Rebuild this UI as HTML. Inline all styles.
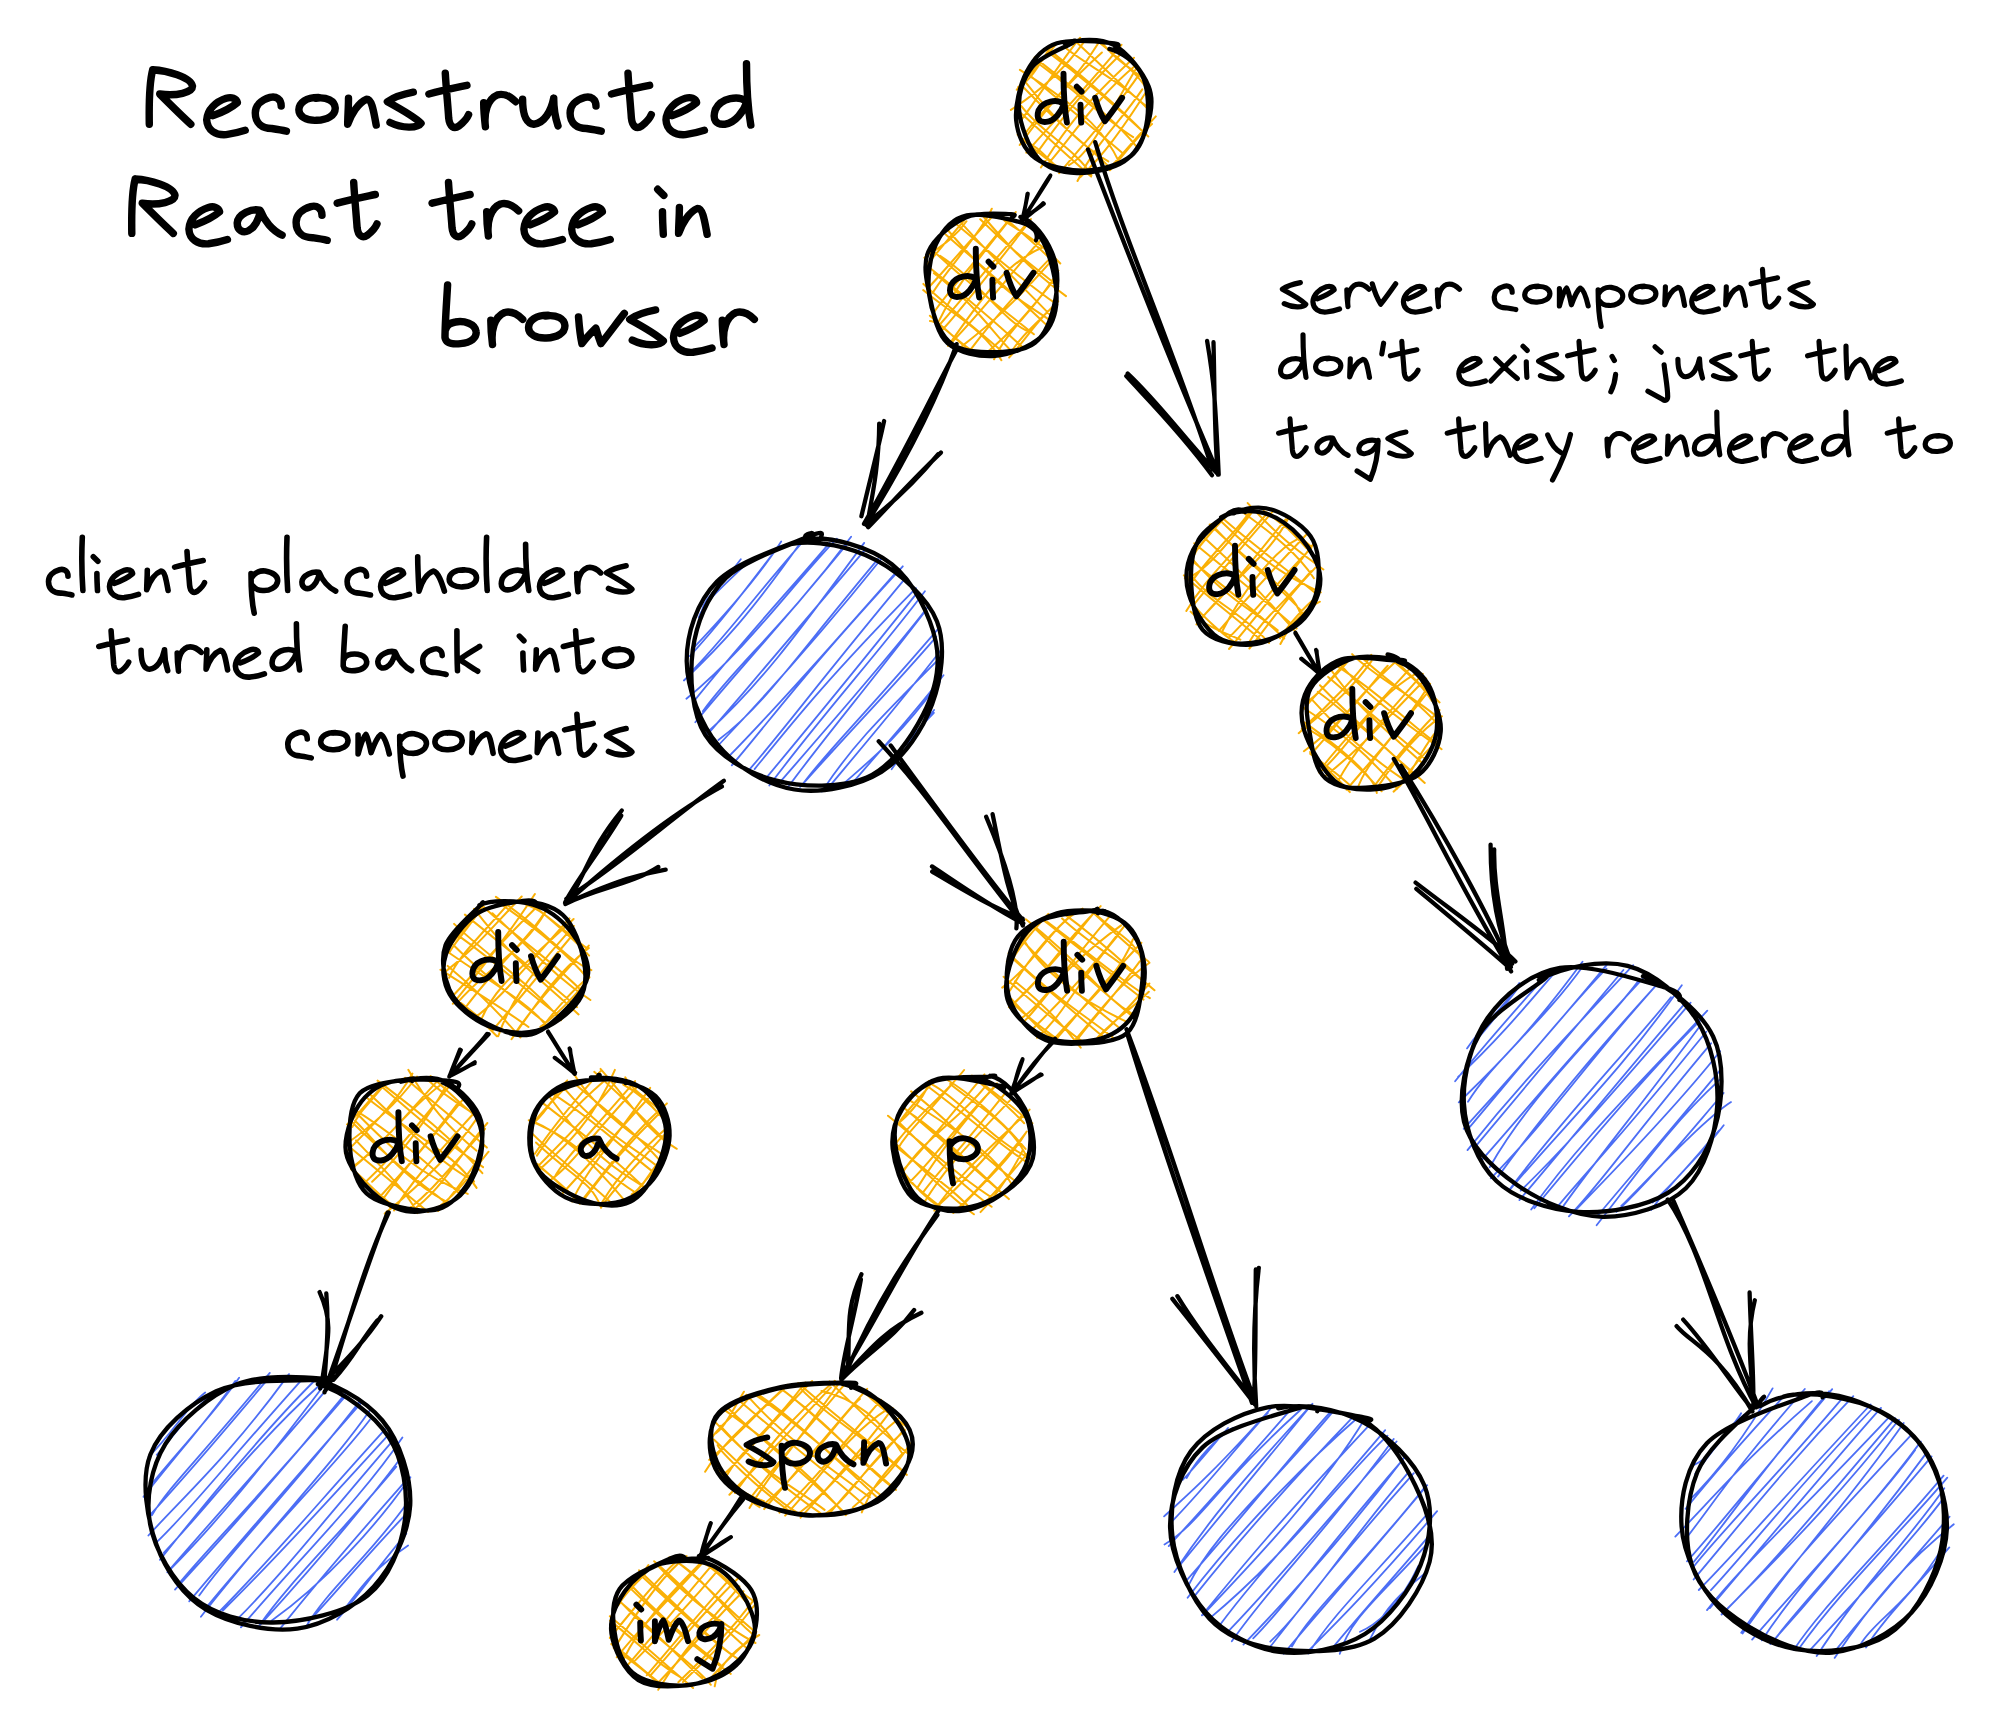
<!DOCTYPE html>
<html><head><meta charset="utf-8"><title>Reconstructed React tree in browser</title>
<style>
html,body{margin:0;padding:0;background:#fff;}
body{width:2000px;height:1732px;overflow:hidden;position:relative;font-family:"Liberation Sans",sans-serif;}
svg{position:absolute;left:0;top:0;display:block;}
.t{color:transparent;font-family:"Liberation Sans",sans-serif;z-index:2;}
</style></head><body>
<svg width="2000" height="1732" viewBox="0 0 2000 1732">
<defs><filter id="soft" x="0" y="0" width="100%" height="100%" filterUnits="userSpaceOnUse" color-interpolation-filters="sRGB"><feGaussianBlur stdDeviation="0.65"/></filter></defs>
<rect width="2000" height="1732" fill="#fff"/>
<g filter="url(#soft)">
<path d="M1016.7 89.8C1028.5 73.7 1038.3 66.5 1056.7 43.3M1018.1 87.2C1029.6 81.2 1037.2 68.3 1051.6 45.1M1010.9 109.9C1035.8 94 1062.7 71.9 1084.4 41.4M1019.6 122.3C1040.5 94.6 1058.1 65 1080.1 37.7M1019.7 145C1056.4 95.1 1073.9 78 1101.9 52.5M1024.1 135.1C1041.5 109.5 1071.6 87.2 1099.1 42M1026.3 152.7C1051 123.8 1075.1 100.7 1121.5 44.8M1035.9 154.3C1055.5 126.9 1079.5 94.2 1122.1 52.7M1040.9 167.5C1060.4 137.7 1075.2 112 1134 57.8M1049.1 162.7C1074 133.8 1098.6 95.5 1136.1 65M1069 165.2C1090.1 153.2 1104.6 121.7 1136.2 68.5M1059.2 173.2C1094.8 131.4 1123.2 98.2 1139.3 74.1M1077.5 181C1097 140.7 1119.5 123.5 1142.3 89.4M1080.2 177.2C1104.1 154.1 1120.4 131.9 1146.7 91M1114.2 163C1118.1 158.9 1127.7 147.3 1155.8 116.4M1109.9 170.2C1122.8 156.6 1132.7 140.6 1152 124M1063.2 172.2C1048.9 161.6 1039.5 145.6 1021.8 139.6M1063.7 171.2C1046 158.8 1028.2 144.5 1017.6 134.7M1091.5 175.2C1076.4 149.5 1037.8 130.4 1017.6 101.1M1091.1 176.6C1071.5 159.3 1052.4 141.6 1017.2 109.8M1108.3 161.4C1076.5 143.1 1047.5 110.4 1025.9 82.6M1109 166.9C1090.8 148.2 1066.3 132.2 1022.2 86M1119 161.8C1107.3 136.8 1089.5 113 1019.9 69.8M1123.8 154.2C1106.8 139.2 1086.2 123.1 1028.8 74.6M1133.2 137.1C1104.8 119.6 1065.7 82.4 1035.1 61.2M1137.8 148.1C1111.4 115.8 1080.9 94.6 1034.6 57.4M1148.3 136.5C1120.9 110.8 1084.6 79.1 1047.8 51.9M1144.6 133.4C1116.8 104.7 1078.7 73.3 1051.4 51.6M1150 111.3C1126.7 84.2 1084.8 64.4 1064.9 47.3M1147.9 107.4C1133 96.8 1117.3 80.5 1076.3 42.1M1146.8 81C1131.7 69.4 1111.3 56.4 1101.3 41.4M1144.7 85.7C1136.3 73.1 1121.3 60.1 1100.8 43.7" fill="none" stroke="#fab005" stroke-width="2.0" stroke-linecap="round" stroke-linejoin="round"/>
<path d="M1109.4 48.9C1122.4 52.3 1135.3 62.4 1141.6 74.2C1147.9 85.9 1149 105.7 1147.2 119.4C1145.4 133 1141.1 147.5 1130.8 156C1120.4 164.6 1101.1 170.3 1085.2 170.6C1069.3 171 1046.9 166.5 1035.5 158.2C1024 149.9 1017.7 135 1016.2 120.6C1014.8 106.2 1019.9 84.7 1026.7 71.8C1033.5 58.9 1042.3 48 1056.9 43.3C1071.6 38.5 1105 42.2 1114.4 43.3C1123.8 44.5 1114.6 47.8 1113.2 49.9M1065.2 44.2C1078.2 38.9 1099.8 37.8 1113.7 44.8C1127.6 51.9 1143.1 72.7 1148.7 86.5C1154.2 100.2 1150.9 114.9 1146.8 127.3C1142.7 139.8 1135.7 153.7 1124.1 161.4C1112.4 169 1091.2 173.5 1077 173.1C1062.7 172.7 1048.3 169.6 1038.6 158.9C1028.9 148.3 1020.1 124.4 1019 109.1C1018 93.7 1023.3 77.9 1032.3 66.8C1041.2 55.8 1066.2 47 1072.6 42.9C1079 38.8 1071.4 41.3 1070.7 42.2" fill="none" stroke="#000" stroke-width="4.3" stroke-linecap="round" stroke-linejoin="round"/>
<path d="M924.3 257.7C937.7 248 953.5 240.1 966.5 221.3M926.4 265.5C938.4 250.9 950.8 236 964.4 220.1M932.6 293C944 273.2 983.8 229.4 991.8 208.7M927.1 289C940.2 275.6 959.9 251.8 993.9 214.8M938.7 321.4C957.1 284.2 974.7 263.8 1015.8 212M933.3 313.2C947.1 292.6 970.9 266.7 1010.4 218.1M940.7 323.5C967.3 293.4 984.7 270.3 1030.9 219.1M939.6 333C966.1 303.5 989.3 273.5 1027.4 224.2M948 346C979.6 301.8 1005.1 262.4 1043.4 247M950.5 343.8C990.6 302.3 1021 260.3 1041.1 239.7M961.4 346.6C994 321.3 1016.3 301.1 1054.4 257.3M968.8 351.8C984.8 330.5 1007.6 301.5 1050.5 257.9M994.1 359.3C1006.6 330.2 1037.1 308.3 1058.4 270.5M981.9 356.6C1008.6 334.9 1028 313.6 1057.3 275.7M1009.1 357.6C1027 338.2 1038.4 318.3 1056.9 303M1010.5 353C1022 334.6 1035.6 324.4 1058.2 301.3M973.8 351.9C954.2 339.8 939.7 320.9 929.9 320.9M972.3 352.1C964 347.3 957.1 338.7 929.9 315.7M1001.4 360.2C982.6 327.5 952.8 315.2 923.2 290.1M1003.7 352.8C977.8 330.4 950.2 308.4 923.4 283.9M1013.2 352.9C994.3 334.8 976.8 305.4 933.9 273.1M1024 348.6C999.4 325.7 973.2 302.9 926.6 265.2M1029.9 332.3C1003.5 321.8 980 281.5 940.1 255.8M1033.9 334.3C1002.1 308.7 959.5 277 930.2 247.7M1050.4 320.6C1021.2 300 1002.6 293.7 946.4 228.5M1046.9 325.4C1014.8 294.2 979 263.9 945.7 234.4M1050.5 315.3C1027 290.8 1003.2 268.9 961.4 223.1M1057.3 304.7C1023.4 281.5 996.5 257.6 954 222.2M1066 296.1C1043.7 280.2 1013 251.9 983.4 216.5M1058.3 286.6C1035.6 267.3 1019 257.6 980.2 219.2M1060.3 263.5C1036.2 237.1 1009.3 225.8 1004.2 220.3M1056.9 265.6C1035.6 243.5 1017.8 229.6 1000 213.8" fill="none" stroke="#fab005" stroke-width="2.0" stroke-linecap="round" stroke-linejoin="round"/>
<path d="M1020.4 216.9C1034 221 1045.9 238.5 1051.8 252C1057.7 265.6 1058.4 283 1055.6 298.1C1052.8 313.3 1046.4 333.8 1035 342.8C1023.7 351.8 1001.7 352.5 987.3 352.2C972.9 351.9 958.1 350.7 948.4 341.1C938.7 331.6 931.2 311.2 929.2 295C927.1 278.8 929.7 257.2 936 244C942.3 230.7 951.6 218.6 966.8 215.4C981.9 212.1 1015.3 220.4 1026.9 224.5C1038.4 228.6 1037 238.3 1036.1 240.2M1016.1 221C1028.5 223 1036.9 229.7 1043.7 242.7C1050.4 255.7 1057 283.3 1056.6 298.9C1056.2 314.6 1051.6 327.1 1041.4 336.6C1031.1 346.1 1010.7 354.8 995 355.9C979.4 357 958.5 352.9 947.6 343.2C936.8 333.5 933.3 313.1 930.1 297.8C926.9 282.5 922.5 264.9 928.4 251.5C934.3 238.1 951.9 223.7 965.7 217.5C979.5 211.3 1003.4 214.1 1011 214.2C1018.7 214.4 1012.3 216.7 1011.5 218.4" fill="none" stroke="#000" stroke-width="4.3" stroke-linecap="round" stroke-linejoin="round"/>
<path d="M701.5 611.9C704.5 596.5 717.1 590.9 740.8 559.2M698.7 617.6C704.9 601 718.1 591.5 748.9 561.1M692.1 649.3C727.4 612.4 760.6 573.6 781.2 541.4M689.8 656.1C718.9 624.5 742.5 593.6 779.3 545.3M688 674.9C722.8 641.5 756.6 593.1 808.5 535.4M683.9 680.5C722.3 644.1 750.2 614.4 804.7 536.8M686.4 698.7C747.6 648.9 796.5 579.5 836.9 538.6M693.2 702.1C738.5 645.1 789.3 590.2 829.6 542.8M702.8 711.3C736 665.1 783.7 627 851.1 536.7M695.3 722.3C740.3 667.7 785 620.3 846.7 544.5M706.2 733.5C759.3 685.5 794.1 638.3 864.2 542.9M706.9 735.2C758.2 675.9 803.6 621.9 865.6 549.1M718.4 740C764.5 705.1 790.8 662.9 878.1 558.9M719.6 744C774.7 686.1 825.1 628.6 881.8 558.3M731.8 765.4C776.8 712.3 803 674.6 902.8 566.3M728.6 756.7C798.2 685.3 857.2 615.5 896.3 572M754.6 769.1C793.1 721.7 826.7 679.3 916 588.1M749.8 769.1C783.1 730.8 819.5 681.4 906.3 577.2M769.3 785.5C824.4 712.1 875.8 656.3 924.9 591.3M767.3 776.6C818.1 715.8 875.4 645 917.1 592.9M786.6 789.1C817.5 746.3 863.4 691.7 926.2 610M779.5 782.7C834.8 719 890.4 655.6 927.6 607.3M800.2 787C850.3 730.5 892.3 687.9 936.2 636.8M803.2 783.6C823.3 755.4 858.9 721 937.3 629.8M821.9 791.6C849.5 749.4 874.1 723.6 940.6 657.3M826.5 789.9C868.2 740 908.7 692.2 942.6 648M841.8 785.2C871.9 758.6 895.7 740.8 939.9 681.8M853.2 782.2C881 749.6 906.3 722.7 943.5 675.3M891.6 769.2C903.2 754 905 744.8 934.1 710M886.1 768.5C896.4 756.3 907.5 739.3 933.9 712.8" fill="none" stroke="#4c6ef5" stroke-width="1.8" stroke-linecap="round" stroke-linejoin="round"/>
<path d="M792.1 543.8C816.6 539.3 851.9 547.3 876.1 560.2C900.2 573.2 927.6 597.5 937 621.5C946.3 645.5 941.4 679.1 932.2 704.1C922.9 729.2 904.4 757.6 881.4 771.8C858.4 786 821.5 793.8 794.4 789.5C767.2 785.2 736.6 767.4 718.7 746C700.7 724.7 687 688.7 686.7 661.3C686.5 633.9 696.5 602.5 717 581.6C737.6 560.8 792.8 543.3 810 536.1C827.3 529 820.7 535.5 820.6 538.7M804 539.3C830.7 535.5 869.9 547.1 891.8 564.2C913.8 581.4 930.7 617.1 935.9 642.2C941 667.3 934.5 692.2 922.9 714.8C911.4 737.3 891.4 766.6 866.8 777.5C842.2 788.4 802.2 787.5 775.3 780.4C748.3 773.3 718.9 756.5 705.2 734.8C691.5 713 689.4 676 692.8 649.9C696.3 623.8 706.9 596.7 725.9 578C745 559.2 793.9 544.3 807.1 537.3C820.3 530.4 805.3 533.2 805.1 536.2" fill="none" stroke="#000" stroke-width="4.3" stroke-linecap="round" stroke-linejoin="round"/>
<path d="M1195 553.8C1195.3 549.5 1207.9 535.4 1228.7 513.2M1192.4 555.5C1202.1 543.3 1217.2 524.7 1226.9 515.2M1184.8 578.3C1197.8 576.4 1216.8 558.8 1253.3 510.7M1188.4 586.7C1209.6 553.8 1240.5 528.7 1251.7 508.4M1186.3 611C1205.2 579.1 1223.8 564.4 1267.3 513M1193.5 605.1C1210.7 584.3 1229.4 561.1 1273.7 510.3M1196.5 624.4C1235.5 576 1270.2 554.7 1288.3 518.3M1201 618.2C1230.2 589.7 1254.3 557.6 1285.6 519.3M1222.8 630.3C1245.3 585.5 1277.9 548.6 1297.5 539.2M1218.9 630.9C1240 606.2 1260.3 582.8 1306 535M1229 649C1255.5 618 1275.8 592.4 1313.6 543.9M1228.9 637.6C1259.6 607.1 1290.3 567.4 1311.2 548.6M1248.3 643.5C1262.1 619.2 1280.8 606.7 1311.1 571.1M1249.4 648.5C1268 626.3 1279 606.3 1315.2 567.9M1280.4 644C1292.5 618.9 1310.1 606.5 1319.9 601.7M1280 638.1C1289.2 623.6 1305 606.3 1314.3 599.1M1240.4 639.6C1224.7 633 1204.7 626 1190.6 611.6M1234.6 642.1C1218 631.1 1200.1 612.7 1196 607.9M1269 642.9C1243.5 613.9 1209.6 600.1 1192.2 576.4M1260.6 639.8C1240.1 621.3 1210.5 599.4 1183.8 575.3M1277.7 630.3C1266 619.2 1228.7 601.4 1193.1 559.8M1284.2 638.5C1251.2 605.7 1215.6 581.6 1188.9 558.1M1296.4 632.7C1263.5 595.6 1239.8 569.5 1203.3 536.7M1296.6 628.6C1258.5 594.6 1219.6 564.5 1194.3 543.2M1301 615.1C1294 591.7 1264.9 576.9 1209.7 524.5M1306.1 616.3C1284.2 589.7 1248.8 565.2 1211.3 524.2M1320.8 592.3C1290.1 578.7 1263.1 562.5 1221 521.2M1317.5 594.8C1283.5 566.7 1250.4 543 1221 516.8M1323.4 569.5C1304 554.7 1283.4 542 1247.7 503.1M1313.9 578.2C1299.2 555.7 1275.9 535.8 1238.8 509.5M1306.6 548.3C1288.8 528.9 1275.8 516 1263.6 511M1311.5 547C1298.7 535.2 1279.5 524 1268.5 513.4" fill="none" stroke="#fab005" stroke-width="2.0" stroke-linecap="round" stroke-linejoin="round"/>
<path d="M1221.1 517.3C1231.7 511.1 1250.2 509.5 1263.5 512.9C1276.8 516.3 1291.4 526.9 1300.9 537.8C1310.4 548.7 1319.7 564.8 1320.3 578.2C1320.9 591.6 1314 607.7 1304.4 618.2C1294.8 628.7 1276.9 637.8 1262.5 641.1C1248.1 644.3 1230.3 645.4 1218 637.5C1205.7 629.6 1192.9 608.2 1188.7 593.6C1184.6 579 1186.3 563.5 1193.1 550C1199.9 536.5 1220.6 518.9 1229.3 512.6C1238.1 506.3 1244.8 510.8 1245.4 512.1M1233.9 513.3C1244.6 508 1259.9 505.4 1273.1 510C1286.3 514.5 1306.1 526.4 1313.2 540.6C1320.3 554.8 1319.9 580.2 1315.7 595.1C1311.4 610 1299.3 621.8 1287.7 630.1C1276.1 638.4 1260.1 645 1246 644.9C1231.8 644.9 1211.8 640.3 1202.7 629.8C1193.5 619.4 1191.8 597.2 1191.1 582.2C1190.4 567.2 1192.4 551.1 1198.6 539.7C1204.9 528.3 1221.9 518.5 1228.6 513.8C1235.3 509.1 1236.6 509.7 1238.9 511.5" fill="none" stroke="#000" stroke-width="4.3" stroke-linecap="round" stroke-linejoin="round"/>
<path d="M1304.3 708.6C1317.6 690.6 1339.5 673.8 1350.5 658M1306.9 701.7C1319.8 694.1 1329.3 679.2 1347.3 661M1298.7 733.2C1320.1 714.4 1346.5 696.6 1371.5 661.1M1301.8 729C1329.9 704.4 1361.2 671.7 1371.3 654.8M1303.9 751.2C1349.1 717.9 1372.3 681.6 1387.7 665.7M1314.5 750.2C1337.8 725.3 1355.9 697.6 1396.8 660.5M1319.3 772.8C1355.6 741.2 1370.5 699.3 1416.3 673.3M1325.6 763C1338.1 746.5 1362.9 719.7 1411.9 666.4M1325.7 775.7C1367.2 742.8 1392 712.5 1426.2 678.5M1337.6 782C1352.6 752.8 1378.7 723.7 1422.8 673.7M1357.1 790C1366.6 760.1 1392.3 742.9 1430.1 683.8M1346.6 789.7C1369.4 762.6 1391.6 738.5 1429.4 690.1M1376.5 788.9C1398.7 754.2 1422.9 728.9 1442 716.2M1371.6 789.6C1390.2 764.5 1415.8 734.1 1439.6 710M1393.6 791.6C1412 777.2 1414.3 760.5 1434.1 734.1M1397.1 788.7C1410.8 767.5 1428.8 747.8 1440.9 738.5M1349.9 792.1C1335.5 775.6 1326.6 769.5 1310.1 752.1M1353.6 788.6C1340.7 776.5 1330.8 768.6 1310.1 753.8M1376.8 793C1375.5 778.9 1350.4 755.1 1304.5 722.4M1381.7 791.3C1357.3 763.7 1331.3 742.1 1305.1 727.1M1397.2 788.7C1372.6 760.8 1346.5 735.6 1305.3 709M1405.5 780.9C1378.7 762.9 1346.2 738.3 1312 699.7M1424.8 782.9C1386.6 749.5 1348.5 714 1317.8 691.8M1416.2 777C1385.8 747 1346.7 713.7 1320 685.3M1423.8 764.4C1390.7 734 1354.1 705.1 1330.3 668.8M1425.8 759.1C1406.4 743.3 1375.6 717.8 1328.2 676.9M1441.6 749.2C1408.9 725.6 1369.2 699 1336.5 660.2M1437.4 744C1408.8 724 1387.2 698.5 1337 665.8M1439 718.5C1416.9 698.7 1372.7 675.6 1352.1 654.1M1437.8 724.6C1417 699.8 1385.3 679.6 1363.9 659.4M1431.8 700.8C1421.1 682.3 1400 667.8 1386.6 654.7M1439.6 702.4C1426.2 690.4 1411.4 676.1 1388.5 654.1" fill="none" stroke="#fab005" stroke-width="2.0" stroke-linecap="round" stroke-linejoin="round"/>
<path d="M1398.2 660C1410.5 663.4 1423.8 675.2 1430.1 687.8C1436.3 700.4 1438.9 720.9 1435.8 735.5C1432.8 750.2 1422.8 766.6 1412 775.6C1401.1 784.6 1384.9 789 1370.5 789.5C1356.1 790 1335.5 787.2 1325.5 778.4C1315.4 769.5 1312.7 751.6 1310.3 736.6C1307.8 721.6 1303.4 701.6 1310.6 688.5C1317.8 675.5 1338.4 663 1353.5 658.2C1368.6 653.5 1393.2 659.5 1401.2 660C1409.2 660.6 1402 660.9 1401.4 661.4M1397.6 661.4C1410.7 665.6 1418.9 674.1 1426 685.8C1433.2 697.5 1441.9 716.7 1440.7 731.5C1439.5 746.2 1431 765.1 1419.1 774.4C1407.1 783.7 1383.1 786.3 1369 787.3C1354.8 788.3 1345 789.9 1334.2 780.5C1323.4 771 1308.6 745.7 1304.2 730.5C1299.7 715.2 1301.2 700.9 1307.5 689C1313.7 677.1 1326.9 664.1 1341.8 659.3C1356.6 654.5 1389.1 661 1396.7 660.2C1404.3 659.4 1389.3 654.5 1387.6 654.5" fill="none" stroke="#000" stroke-width="4.3" stroke-linecap="round" stroke-linejoin="round"/>
<path d="M447.6 948.4C460 935.2 469.8 920.9 482.8 905.2M449.8 951.9C455 942.1 466.5 931.1 482.3 906.8M443.3 973.4C473.8 950.1 489.4 930 521.7 896.5M449.1 977.8C457.6 958 472.3 944.4 510.2 901.8M452.8 1003.8C481.8 968.5 509.8 932.8 534.9 894M451.9 996.9C473.6 974.3 489.4 953.7 538.9 904.7M456.3 1004.1C485.5 969.3 523.6 951.1 545.4 912.1M464.4 1009C494.4 967.8 531.9 936 548.6 905.9M480.5 1021.5C494.4 985.5 522 967.8 573.6 919M473.1 1018.9C496.3 1002.5 514.4 980.1 569.5 918.4M498.2 1036.2C509 1004.5 526.5 978.5 573.9 925.9M492.6 1030.3C509.7 1010.1 528.2 988.2 573.8 933.5M511.5 1039.2C540.1 998.3 557.7 972.3 588.9 948M514 1035C530.6 1009.6 554.4 983.3 588.8 945.6M540.4 1026.9C554.1 1017.2 575.7 995.8 589.5 977.4M539.7 1031.2C554.4 1009.6 574.5 988.6 589.2 976.8M496.9 1036.2C488.7 1027.8 471.7 1010.9 452.7 996.3M492.6 1030.2C482.5 1019.7 472.4 1011 449.4 994.3M528.5 1027C502.1 1007.7 461.4 983 440.4 969.7M520.5 1037.5C502.5 1016.9 482.5 994.9 447.7 965.9M547.3 1027.2C531.9 1005.3 496.4 985.8 447.6 951.8M548.7 1025.7C519.7 1001.3 489.5 980.9 453.4 945M561 1020.3C531.6 984.2 487.4 955.9 454.1 923.9M559.9 1016C533.2 997.9 503.1 966.8 455.8 933.9M578.6 1014.4C538.6 977.3 515.3 962.3 474.1 908.9M577.1 1007.2C552.2 984.8 530.1 966.9 464.9 914.6M590.4 1000C559.6 979.7 544.2 962.4 492.4 913.2M581.6 990.8C550.2 958.9 510.8 933.8 480.3 903.8M591.4 970.1C564.4 958.8 552 935.7 495.9 896.9M587.2 977.8C565 951.6 537.8 929.8 502.5 905.1M589.1 955.6C567.5 932.5 535.9 908.1 536.2 907.2M587.3 948.6C563.2 931.2 543.8 909.8 526.2 904.8" fill="none" stroke="#fab005" stroke-width="2.0" stroke-linecap="round" stroke-linejoin="round"/>
<path d="M518.3 901.6C532.7 900.5 552 905 562.9 915C573.9 924.9 581.3 947.2 584 961.5C586.6 975.8 586.6 989.2 578.7 1000.8C570.8 1012.4 551.7 1026.8 536.5 1030.9C521.3 1035.1 502.1 1031.8 487.6 1025.8C473.2 1019.7 456.7 1006.5 449.8 994.5C442.9 982.6 441.4 967.5 446 954C450.6 940.5 464.4 922.3 477.3 913.5C490.1 904.6 513.3 902.7 523 900.9C532.7 899.1 535.9 901.9 535.6 902.4M479.4 905.2C490.8 899.5 517.9 900.3 533.1 904.7C548.3 909 561.6 920 570.8 931.4C580 942.9 589.1 960.2 588.1 973.4C587.2 986.5 575.1 1000.2 564.9 1010.5C554.6 1020.8 541.1 1033.9 526.5 1035.1C511.9 1036.4 490.1 1025.7 477.2 1018.1C464.3 1010.5 454.6 1001.7 449.4 989.5C444.1 977.3 440.4 959.2 445.5 945.2C450.7 931.1 474.3 912 480.2 905.3C486.2 898.6 480.3 904.6 481.3 904.9" fill="none" stroke="#000" stroke-width="4.3" stroke-linecap="round" stroke-linejoin="round"/>
<path d="M1006.8 961.4C1022.5 946.9 1027 926.8 1044.9 918.6M1011.1 960.9C1017.9 950.7 1025.2 939 1048.3 913.9M1002.2 987.6C1036.9 962.2 1050.1 925.9 1082.6 908.6M1010 990.6C1030.7 954.3 1058 926.5 1073.7 913M1008.9 1007.2C1043.4 980.1 1055.7 949.5 1100.7 906.1M1010.2 1007.6C1043.3 974.2 1064.7 948.9 1096.5 909.5M1022.8 1017.2C1043.2 1004.6 1055.6 972.5 1121.1 925.4M1022.5 1023.1C1045.4 1000.6 1058.8 976.2 1110.5 915.3M1037 1037.8C1064.2 1014.2 1069.2 993.1 1119.6 933.4M1032.6 1029C1070.4 992.3 1102.7 954.3 1123.7 926.9M1051.9 1041.6C1082 1006 1119.2 977.3 1133 939.2M1054.3 1041.2C1072.1 1021.5 1091.6 995.4 1141.4 942.8M1075.9 1041.4C1093 1018.3 1119.6 989.7 1139.9 961.2M1071 1044.8C1096.5 1015.7 1117.1 985 1149.5 962.7M1092.9 1042.6C1114.1 1018.3 1125.5 1014.7 1148.8 991.7M1092.8 1042.6C1109.1 1027.1 1119.4 1019.1 1149.4 983.5M1055.8 1039.1C1044.5 1034.1 1040.8 1031.1 1011.4 998.9M1057.2 1039.1C1041.8 1027.7 1024.5 1014.9 1012.7 1003M1080.7 1047.7C1058.5 1018.4 1036 998.2 1014.9 981.3M1085.2 1043.6C1067.4 1031 1046.1 1013.6 1003.6 976.7M1113.1 1037.7C1081.6 1012.4 1058.1 1001.1 1008.6 953.3M1103.4 1037.1C1069.1 1008 1033.5 978.3 1009.8 955.7M1128.5 1022.7C1079.4 1000 1040 969.5 1021.9 937M1117.9 1026.7C1084.5 1000 1044.6 965.5 1020.2 938M1132.2 1013.9C1100.1 995 1089.1 969.5 1025.8 919.2M1133.3 1017.2C1099.3 988.1 1072 965.2 1031.2 924.7M1149.9 998.1C1121 980.7 1094.1 956.9 1047.5 922M1143.5 999.6C1107.3 971.7 1063.4 935.3 1043.6 920.1M1154.5 990.3C1118.7 959.5 1088.5 943.3 1062.1 918.4M1144.5 982C1123.7 963.4 1107.2 945.6 1060.7 911.4M1141.5 960.4C1135.1 939.7 1117.1 934.8 1094.4 912.9M1148.5 961.5C1127.5 946.3 1115.7 933.3 1090 909.8" fill="none" stroke="#fab005" stroke-width="2.0" stroke-linecap="round" stroke-linejoin="round"/>
<path d="M1084.3 910.8C1099.1 910.7 1118.1 916 1128.2 926C1138.3 935.9 1144.1 955.4 1144.7 970.5C1145.3 985.6 1140 1005 1132 1016.5C1124.1 1028 1111.2 1036.1 1096.9 1039.6C1082.6 1043.1 1061 1043.5 1046.3 1037.4C1031.6 1031.4 1014.4 1016.3 1008.8 1003C1003.2 989.7 1007.4 971.3 1012.5 957.7C1017.5 944.2 1026 929.4 1039.1 921.6C1052.1 913.8 1081.4 912.9 1091 910.8C1100.5 908.8 1097.1 908.2 1096.5 909.2M1103.1 910.8C1117.5 914 1130.7 928.5 1137.2 940.7C1143.8 952.8 1143.9 968.1 1142.1 983.5C1140.4 998.9 1138.1 1023.1 1127 1033.1C1115.8 1043.1 1090.4 1043.3 1075.3 1043.7C1060.3 1044 1047.8 1043.1 1036.6 1035C1025.5 1026.9 1012 1010.7 1008.4 994.9C1004.8 979.2 1007 954.1 1015.1 940.5C1023.2 926.9 1042.4 918.2 1057 913.2C1071.5 908.3 1095.9 911 1102.7 911C1109.6 911 1098.4 911.5 1098 913.2" fill="none" stroke="#000" stroke-width="4.3" stroke-linecap="round" stroke-linejoin="round"/>
<path d="M347 1124.4C358.8 1114.4 367.1 1102 384.4 1084.3M352.4 1127C358.5 1111.6 371 1102.3 385.5 1083.2M344.7 1144.9C381.1 1119.9 402 1096.4 417 1076.5M344.8 1153.2C376.2 1122.3 398.7 1098.3 412.5 1073.5M353.7 1166.1C385.2 1143 409.8 1107 441 1084.7M351 1169.4C381.3 1144.9 402.7 1119.1 436.8 1081.6M372.1 1181.8C398.7 1157.8 427.2 1119.7 446.5 1085.2M360.7 1186.7C389.4 1160.2 405.6 1140.4 452.3 1082.5M380.7 1202.4C403.9 1168.5 434 1135.5 458.4 1102.3M377.5 1199.5C407.4 1167 443 1124.6 462.4 1100.1M384.7 1213.6C431.9 1175.2 461.2 1141.4 476 1119.6M394 1210.5C411 1181.5 435.9 1155.2 474.1 1113M410.2 1212.1C442.9 1189.2 457.5 1156.6 487.4 1123M408.9 1208.8C431.4 1191.4 444.1 1174.5 485.1 1128.8M432.3 1211C458.9 1194.8 476.1 1166.3 488.6 1151.7M438.1 1211C451.8 1196.6 463.2 1180 479 1158.2M390.6 1208C382.7 1197.7 364.3 1178.6 350.9 1168.3M397.2 1208.8C379.7 1196.3 370.9 1184.7 352.4 1170.3M417.3 1213.2C407.1 1190.9 380.8 1167.1 356 1140.4M428.1 1211.9C393.4 1182.9 370.4 1164.3 345.2 1143.3M445.3 1201.2C402.4 1178.1 375 1139.9 355 1120.8M447.5 1204C424.8 1185.9 397.7 1167.1 349.5 1119.8M467.8 1193.9C419.7 1175.3 389 1146.2 357.7 1114.2M459 1193.2C425.9 1159.8 381.9 1126.5 355.1 1110.2M476.6 1187.9C454.2 1153.2 424.9 1143.4 366.4 1097.5M474.1 1181.5C442 1164.1 414.8 1136.5 368.5 1093.1M482.4 1173.2C450.5 1136.9 417.5 1110.7 377.5 1080.6M483.1 1167.1C449.5 1145.2 427.4 1125.9 381.3 1086.2M476.6 1150.7C444.1 1125 424.4 1098.2 408.3 1069.8M486.9 1147.6C455.8 1119.4 426.3 1097.1 405.1 1077.7M480.1 1117.9C467.3 1109.1 446.9 1098.2 427.7 1079.7M480.3 1119.5C461.9 1106.6 449.8 1092 430.5 1076.1" fill="none" stroke="#fab005" stroke-width="2.0" stroke-linecap="round" stroke-linejoin="round"/>
<path d="M442.6 1082.6C456.3 1087.9 470 1103.6 476.3 1116.2C482.6 1128.8 483.5 1144.6 480.2 1158.3C477 1171.9 468.1 1189.5 456.6 1198.4C445 1207.3 425 1212.7 410.9 1211.7C396.8 1210.7 382.9 1202.2 372.1 1192.2C361.3 1182.2 348.2 1166.3 345.9 1151.9C343.7 1137.5 350.9 1117.5 358.4 1105.9C365.9 1094.2 375 1086.1 390.8 1082C406.6 1078 442.4 1080 453.2 1081.4C464.1 1082.7 457.3 1088.1 455.9 1090.2M401 1081.7C414.5 1078.2 433.1 1075.5 446.5 1082.1C459.8 1088.6 476.7 1105.6 481.1 1121C485.4 1136.4 479.1 1160 472.6 1174.5C466.1 1189 454.2 1202.4 442.1 1207.9C429.9 1213.3 412.8 1210.2 399.7 1207.2C386.6 1204.2 371.6 1200.4 363.3 1189.9C355 1179.3 350.2 1159.7 349.6 1143.6C349 1127.5 349.7 1104.1 359.7 1093.3C369.8 1082.5 401.2 1080.9 410 1078.8C418.7 1076.8 412.4 1080.1 412 1081.1" fill="none" stroke="#000" stroke-width="4.3" stroke-linecap="round" stroke-linejoin="round"/>
<path d="M534.1 1122.5C551.2 1107.4 554 1093.2 567.3 1080.4M532.9 1124C541.8 1110.9 550.9 1103 569.3 1083.5M536.9 1155.6C554.9 1127.2 577 1104.4 604.4 1080.7M534.9 1153.8C558 1118.5 585.8 1088.6 600.4 1071.4M539.5 1169.6C560.7 1150.4 592.4 1123.7 614.9 1069.9M537.8 1166.4C560.5 1143.2 586.3 1118.5 617.6 1079.6M554.9 1176.7C561.5 1162.7 589.7 1133.7 635.1 1081.1M550.3 1180.2C570.8 1165.8 590 1137.4 637.5 1086.2M572.1 1201.5C583.1 1175.4 607.1 1149 650.2 1087.9M561.7 1194.3C596.6 1156.4 623.4 1124.7 648 1098.8M584.3 1197.3C607.9 1168 634.9 1130 666.9 1103.4M584.4 1199C603.3 1173.2 625.3 1146.4 660.4 1112.3M602.3 1202.1C620.5 1171.1 651.3 1141.2 669.4 1125.4M600.9 1207.7C616.4 1184.7 636.8 1165.4 667.9 1130.9M631.6 1194.4C644.9 1187.4 651.5 1166.3 664.6 1156M630.6 1197.6C640.4 1186.6 652.8 1171.5 666.1 1157.4M579.8 1203.7C564.5 1187.9 553.6 1178.2 537.2 1163.8M576.3 1198.8C561.5 1184.8 547.9 1171.5 534.9 1164.1M601.3 1207.6C590.1 1180.4 576.5 1180.5 536 1142.5M610.5 1202.3C583.1 1176.7 545.2 1148 531.2 1132.4M637.1 1193.6C592.6 1165.3 575.7 1138.6 528.7 1120.2M624.7 1200.7C594.2 1164.1 560.7 1132.4 533 1121.4M646.9 1188.5C619.4 1172 595.8 1159.8 549.7 1097M642.9 1186.2C613 1157.5 585.5 1136 542.5 1102.9M660.3 1168.9C641.3 1151.5 604.6 1135.2 564.2 1088.4M655.3 1173.6C625.4 1150.9 595.4 1120.6 553 1093.9M663.8 1155.4C641.5 1141.3 594.9 1109.7 573.1 1072.7M663 1164.2C637.5 1133.7 609.6 1114.1 572.2 1081.5M676.8 1148.8C646.9 1131 634.7 1108.3 600.5 1068.9M668.1 1142.4C653 1130.3 636.5 1109.4 594.2 1071.8M662.2 1117.4C646.5 1099.7 635.8 1091.1 623.2 1084.5M664.3 1113.3C646.2 1098.6 631.3 1088.8 625.2 1077.3" fill="none" stroke="#fab005" stroke-width="2.0" stroke-linecap="round" stroke-linejoin="round"/>
<path d="M613.1 1080.2C626.8 1081.6 646.1 1086.9 655.5 1096.1C664.9 1105.3 670 1121.7 669.6 1135.6C669.2 1149.5 662.1 1168.1 653.1 1179.3C644.1 1190.5 630.3 1199.7 615.7 1202.7C601.1 1205.7 579.3 1204.2 565.5 1197.3C551.8 1190.4 538.6 1174.9 533.2 1161.2C527.8 1147.6 528.2 1128.2 533.2 1115.5C538.2 1102.8 549.9 1091 563.3 1085C576.6 1078.9 602.8 1079.5 613.2 1079.2C623.6 1078.9 624.5 1082.2 625.5 1082.9M590.9 1077.5C604.8 1076.6 627.4 1079.1 639.8 1086.9C652.1 1094.7 662.4 1110.8 665.2 1124.4C668 1138.1 662.5 1155.8 656.7 1168.7C650.9 1181.6 641.8 1196.4 630.1 1201.8C618.4 1207.2 601.7 1205.9 586.7 1201C571.6 1196 549.2 1183.4 539.9 1172C530.7 1160.6 530 1145.3 531.2 1132.7C532.4 1120.2 536.4 1106 547 1096.9C557.6 1087.8 586.3 1081.8 594.9 1078.3C603.5 1074.7 597.7 1074.1 598.4 1075.6" fill="none" stroke="#000" stroke-width="4.3" stroke-linecap="round" stroke-linejoin="round"/>
<path d="M900.2 1121.8C911 1112.7 927.7 1092.8 928.7 1081.1M898.1 1124.2C909 1106.7 927.6 1089.9 932 1082.8M894.7 1145.3C910.8 1120.5 945.5 1094.2 964.1 1070M896.6 1150.9C907 1131.5 925.6 1116.7 957.7 1077.1M901.8 1173.8C924.5 1137.5 959.2 1119.5 984.5 1087.3M900.3 1173C925 1148 954.3 1110.7 984.5 1074.4M917 1188.4C943.3 1146.2 970.9 1113.7 996.9 1083.3M907.1 1184.3C929.1 1165.1 942.7 1140.9 995.2 1086.2M922.5 1193.2C937.8 1172 955.1 1155.8 1006.2 1091.8M925.3 1200.8C943.8 1170 963.4 1150.3 1010.2 1100.1M934.3 1210.7C963.2 1167.3 1008.6 1132.2 1029.6 1109.6M938.5 1205.2C972.2 1174.7 999.6 1141.2 1021.9 1115.4M963.2 1204.8C990.5 1176 1010.8 1157.9 1026.7 1131.6M953.3 1213C983.2 1185 1005.6 1159.3 1026.2 1132.4M980.5 1212.1C998.2 1194.5 1016.4 1163.4 1022.5 1150.6M980.4 1206.5C990.2 1199.2 999.2 1187 1027.7 1153.3M940.2 1207.6C931.3 1201.9 918.1 1191.7 901.4 1169.7M940.6 1206.8C927.6 1197.8 911.7 1182 901.2 1174.7M973.9 1214.3C945.7 1193.8 924 1170 893.3 1141.5M970.2 1208.4C955.1 1191.3 936 1178.7 896.3 1147M993 1198.3C964.4 1180.2 943 1160.7 888 1115.7M991.6 1206.8C958.9 1183.1 934.3 1156.5 899.9 1123.2M999.4 1190.5C966.9 1160.6 934.5 1128.6 908.2 1111.9M1008.9 1199.1C974.7 1169.5 936.9 1135.5 903 1107M1011.7 1184.4C995.1 1153.4 958.8 1133 910.9 1101.2M1018 1183.2C975.3 1151.9 944 1115.8 911.1 1091.4M1033 1159.6C993 1142.4 960 1098.9 932.7 1084.9M1029.5 1164.2C995.1 1141.4 962.9 1112.4 926.9 1085.7M1026 1155.1C1009.6 1122.7 977 1105.9 950.2 1084M1025.5 1148.9C1001.1 1118.6 964.8 1090.3 947.4 1080M1032.4 1123.3C1015.1 1110.3 1010 1103.6 976.8 1079.2M1024.2 1123.3C1004.9 1102.3 987.5 1090.1 971.8 1075.6" fill="none" stroke="#fab005" stroke-width="2.0" stroke-linecap="round" stroke-linejoin="round"/>
<path d="M981.3 1079C995.5 1082.8 1016.5 1099.5 1024.3 1112.8C1032.1 1126 1031.6 1145 1028 1158.5C1024.5 1171.9 1014.4 1184.6 1002.9 1193.4C991.4 1202.2 973.3 1210.3 959.1 1211C944.8 1211.7 928 1207.6 917.5 1197.7C907.1 1187.7 899.3 1165.9 896.4 1151.3C893.6 1136.8 893.5 1122.6 900.5 1110.5C907.5 1098.4 922.5 1083 938.2 1078.7C954 1074.4 984.1 1083.1 995 1084.9C1005.9 1086.6 1004.5 1088.3 1003.4 1089M990.1 1075.8C1003.8 1078.6 1017.7 1095 1024.9 1108.8C1032 1122.5 1036 1144.7 1032.8 1158.5C1029.6 1172.2 1017.9 1183.1 1005.8 1191.5C993.7 1199.8 975.9 1207.5 960.3 1208.5C944.7 1209.5 923.4 1207.3 912.1 1197.3C900.9 1187.4 894.4 1163.4 892.7 1148.8C891.1 1134.1 895 1120.7 902 1109.4C909 1098.1 919.8 1086.6 934.7 1081.1C949.5 1075.6 981.9 1077.4 991.2 1076.6C1000.4 1075.7 990.9 1075.2 990.2 1076.1" fill="none" stroke="#000" stroke-width="4.3" stroke-linecap="round" stroke-linejoin="round"/>
<path d="M710 1436.1C721.9 1432.8 727.3 1419.6 743.9 1391.7M711.9 1437.8C718.8 1425.5 733.1 1417.8 749 1397.8M705.1 1471.7C723.9 1441.7 745.7 1425 787.3 1384.8M709.1 1459.9C736.3 1437.3 756.7 1412.8 783.9 1389M724.7 1473.4C749.5 1451.3 774.5 1418.8 812.1 1381M725 1478.9C739.9 1450 769 1431.2 805.3 1382.5M735 1493C764 1453.4 785.4 1422.6 834.9 1380.8M729.4 1494.7C766.1 1457 795.4 1424.9 830.9 1387.4M749.5 1508C774.6 1466.1 798.3 1442.6 841.4 1379.7M750.8 1497.5C781.1 1458.3 818.3 1416.1 843.5 1385.7M764.3 1504.1C809.6 1464.5 843.7 1412.2 859.9 1398.9M764.1 1509.1C802.8 1465.1 836.1 1423.5 867.2 1388.9M785.1 1515.6C821.3 1477.8 843.8 1437.1 888.6 1408.4M779.4 1512.7C803.3 1491.7 829.8 1460 881 1399.8M798.9 1513.3C835.4 1486 850.8 1457.9 900.7 1416.8M800.6 1517.7C834.8 1480.3 867.6 1443.2 892.6 1408.1M824.6 1514.5C850.7 1497 864.2 1466.5 905.1 1430.1M828.3 1515C854.9 1482.1 893.1 1443.3 903.4 1430.3M861.8 1512.4C868.3 1496.7 873.2 1483.2 910.1 1445.7M852.8 1507.5C869.7 1492.7 889.6 1475.4 910.7 1443.2M764 1501.1C745.5 1495.1 735.7 1488.9 716.1 1467.9M759.6 1507.2C740.6 1495 725.4 1479.2 714.7 1469.2M791.4 1512.8C755.5 1486 720.7 1452.4 717.6 1445.2M796.4 1512.2C769 1495.2 747.2 1470.3 713.8 1439.5M824.6 1509.9C796.2 1487.7 766.1 1476.3 716 1422.9M820.4 1513.1C785.2 1488.9 750 1458.2 720.4 1425.8M845.7 1515.2C815.7 1481.5 797.3 1462.4 724.4 1409.9M846.4 1514.5C800.3 1468.7 753.4 1433.5 728.1 1408.3M869.8 1497.3C820.1 1461.3 781.9 1434.8 746.3 1394.7M864.2 1505.4C839.4 1482.1 809.1 1459.9 740 1401.2M880 1500.2C829.6 1452.3 781.5 1408.5 758.5 1394.9M883.6 1497.5C839.7 1463 802.4 1426.8 755 1394.6M894.3 1488.6C861 1465.3 838.5 1431.4 784.3 1391.2M896.1 1489.9C849.6 1451 809.3 1408.2 782 1389.7M906.5 1474.7C872.6 1442.7 825.2 1415.4 801.5 1389.4M906.9 1474.9C881.9 1450 850 1428.7 798.1 1383.1M902.6 1454C882.3 1420.5 853.8 1397.6 821.4 1390.9M907.5 1453.1C884.4 1434.7 862.2 1413.8 829.5 1381.4M903.8 1429C894.5 1413.6 886.8 1409.5 869.2 1396.1M905.8 1426C892.9 1416.8 878.5 1406.9 864.4 1392.1" fill="none" stroke="#fab005" stroke-width="2.0" stroke-linecap="round" stroke-linejoin="round"/>
<path d="M839.7 1383.1C860.1 1387.4 888.4 1404.3 900.3 1416.6C912.1 1428.8 915.4 1442.2 910.8 1456.6C906.1 1471 888.7 1492.9 872.3 1502.7C856 1512.5 833.4 1516.1 812.6 1515.3C791.7 1514.5 763.8 1506.8 747.2 1498.1C730.6 1489.3 717.8 1476.7 713 1462.8C708.2 1449 707.7 1427.4 718.3 1415.1C728.8 1402.7 754.7 1394.3 776.2 1388.9C797.7 1383.6 835 1383.1 847.4 1383C859.9 1382.8 851.2 1386 851 1387.8M853 1385.7C870.7 1391.1 885.7 1406.2 895 1418.6C904.3 1431 911.7 1446.3 908.7 1460.1C905.7 1474 894.4 1492.6 877.2 1501.8C860 1511 827.6 1516.6 805.6 1515.3C783.7 1514.1 760.7 1504.2 745.6 1494.4C730.5 1484.6 719.3 1470.1 714.9 1456.4C710.4 1442.8 708 1424 719 1412.4C730 1400.9 759 1392 780.8 1387.1C802.5 1382.1 837.5 1382.8 849.5 1382.7C861.5 1382.6 854.1 1384.7 852.8 1386.3" fill="none" stroke="#000" stroke-width="4.3" stroke-linecap="round" stroke-linejoin="round"/>
<path d="M618.9 1604.7C623.6 1594 640.2 1580.4 646.5 1571.8M614.4 1610.5C624 1594.5 634.4 1586.5 648.4 1565.1M617.6 1643.1C638.3 1609.9 663.4 1574.3 686.7 1556.1M609.8 1637.9C637.1 1605.2 655.2 1581.2 674.7 1563M623 1660.2C641 1623.2 669.8 1594.2 701.9 1561.7M616.7 1657.3C641.6 1626 665 1603.9 704.2 1561M625.7 1667.3C653.8 1635 678.2 1604.7 709.9 1567.6M633.1 1662.6C661.4 1634.1 696.9 1595.2 720.9 1566.9M649.7 1676.2C675.8 1647.7 695.9 1619.5 738.2 1578.2M646.7 1675.3C677.5 1639.3 713.6 1596.7 728.7 1580.4M658.2 1689.8C679.9 1654.5 700.6 1632.3 739.5 1586.3M658.5 1682.4C693.2 1646.1 716.1 1617.3 743.5 1591.2M678.3 1682.2C699.5 1661.8 725.2 1638 755.4 1598.1M682.9 1682.1C706.1 1658.4 725.9 1642.8 755.9 1603.5M714.7 1686.3C717.1 1664.3 739.8 1645.4 759.3 1635M709.7 1679.7C722.3 1663 740.3 1649.2 756.4 1631.8M663 1685.3C640.9 1669.4 622 1649.3 611.2 1644M656.8 1682.7C650.3 1674.2 637.9 1666 613.6 1647.9M682.4 1678.5C657.1 1663.8 644.1 1648 610.1 1620.6M693.1 1688C666 1665.8 636.8 1638.2 609.8 1616.2M702.3 1678.4C683.1 1662.9 667.1 1641 616 1598.2M710.9 1684.8C688.5 1657.9 655.1 1640.8 616.5 1597.3M721 1665.4C713.3 1658.4 675.2 1632.6 630.9 1585M730.8 1673.9C705.4 1655.2 680.2 1636.8 628.3 1586.4M733.1 1655.7C712.2 1641.4 680.4 1612 640.8 1575.4M738.6 1659.4C720.4 1647.5 696.6 1624.8 639 1570.3M755.5 1643C728.9 1628.9 691 1601.3 658 1565.7M748.7 1649.7C718.8 1624.9 690.1 1591.9 654.1 1561.2M751.9 1633.6C721.7 1608 704.2 1576.3 669.2 1557.4M754.7 1631.4C726.3 1609 703.1 1579.4 672.1 1558.5M752 1600C737.6 1590 726.8 1579.4 701.3 1558M749.3 1605.2C735 1590.1 718 1571.2 704.3 1563.5" fill="none" stroke="#fab005" stroke-width="2.0" stroke-linecap="round" stroke-linejoin="round"/>
<path d="M654.5 1565.8C668.1 1560.4 693.1 1559.2 707.5 1563.6C722 1567.9 733.2 1580.5 741.1 1592.1C749 1603.7 756.4 1620.8 754.7 1633.3C752.9 1645.9 742 1658.6 730.7 1667.3C719.3 1676 702.2 1684 686.5 1685.4C670.8 1686.8 648.3 1683.4 636.5 1675.6C624.7 1667.8 618.5 1653.1 615.7 1638.6C612.9 1624.2 610.5 1602.4 619.6 1589C628.8 1575.6 659.9 1563.2 670.8 1558.1C681.8 1553 684.3 1557 685.2 1558.4M698.8 1556.2C713.9 1558.1 739.2 1574.7 748.7 1586.3C758.2 1597.9 757.9 1612.7 755.8 1625.8C753.7 1638.9 746.5 1655.5 736.2 1665.2C725.9 1674.9 710.1 1681.6 693.8 1684.1C677.5 1686.6 652.1 1688.5 638.4 1680.1C624.6 1671.7 613.7 1648.6 611.5 1633.7C609.2 1618.9 616.9 1602.6 625 1591C633 1579.3 646 1569.4 659.5 1563.9C673 1558.4 699.2 1558.8 706.1 1558.1C713 1557.5 701.8 1558.5 700.8 1560" fill="none" stroke="#000" stroke-width="4.3" stroke-linecap="round" stroke-linejoin="round"/>
<path d="M148.6 1456.8C173 1432.9 188 1405.1 205.2 1392.5M156.7 1454.8C170.6 1440.6 184.2 1418.3 208.2 1397.5M143.5 1496.9C175.3 1455.9 212.4 1414.6 235.2 1380.9M147.1 1489.6C176 1452.8 214.7 1413.5 239.1 1377.8M151.9 1515.2C170.2 1485 194.6 1464.1 269.8 1372.9M149.2 1515.8C173.1 1490 200.7 1459 266.1 1381.2M156.4 1542.4C189.1 1511.6 218.4 1472.9 299.9 1381.8M148.4 1535.5C187 1493.3 228.9 1456.3 289 1374.1M163.7 1552.8C204.9 1510 252.1 1446.6 318.1 1386.5M159.9 1559.9C216.8 1488.4 271.9 1423.1 313.7 1381.5M169.9 1569.8C217.5 1522.2 262.2 1466.6 321.9 1388M167.3 1572.3C220.3 1510.9 267.1 1460.4 326 1390.1M177.7 1585C210.8 1544.8 257.8 1498.5 345.9 1395.7M175 1589.6C233.4 1526.5 283.5 1469.5 346.1 1392.9M199.2 1595.5C234.3 1546.3 286.2 1496.2 360.7 1400.1M189.2 1601.3C235.9 1546.3 278.6 1496.8 360.3 1403.8M200.9 1616.7C270.8 1527.7 336 1460.1 370.4 1409.6M204.4 1609.9C266.6 1533.1 333.6 1467.3 369.9 1419.8M222.9 1610.5C288.6 1545.9 350.6 1475.8 388.9 1434.4M217.8 1613.2C276 1554.5 324.7 1495.2 385.3 1429.1M240.9 1627.4C303.8 1553.7 361 1498.6 402.4 1437.5M234.3 1622.2C282.2 1574.9 323.6 1520.6 393.3 1440.1M259 1625.9C291.3 1579.5 336.7 1538 396.3 1466.7M258.5 1626.7C302.4 1578.5 351.1 1523.9 401.4 1457.3M271.5 1620.7C324.8 1583 378.1 1524 410.4 1477.3M279.9 1628.9C309.2 1592.1 335.1 1560.7 404.4 1482.4M306.1 1626.7C326.3 1591.3 367.3 1558.3 405.6 1505.2M308.3 1622C338.6 1589.8 372 1548.8 411 1509.2M344.6 1608.7C365.4 1581.6 375.1 1568 408.1 1545.4M337.1 1619.7C359.9 1593.6 378.1 1566.9 406.3 1533.7" fill="none" stroke="#4c6ef5" stroke-width="1.8" stroke-linecap="round" stroke-linejoin="round"/>
<path d="M303.4 1377.5C330.1 1379.9 364.6 1399.2 382.4 1420.5C400.2 1441.9 411.6 1477.9 410.2 1505.5C408.7 1533.2 392.5 1566.1 373.7 1586.6C354.9 1607.2 325.1 1624.8 297.3 1628.6C269.4 1632.5 230 1623.8 206.5 1609.9C183.1 1595.9 165.9 1570.9 156.6 1545C147.2 1519.1 140.5 1480.2 150.4 1454.5C160.3 1428.9 189.8 1403.6 216.2 1391.2C242.6 1378.8 291.6 1380.6 309 1380.2C326.3 1379.7 319.8 1386.4 320.2 1388.5M317.8 1384.1C342.6 1390.9 374.2 1414.6 388.7 1437.2C403.3 1459.8 408.5 1493.4 404.9 1519.8C401.4 1546.2 389.6 1578.5 367.6 1595.6C345.7 1612.7 302 1622.1 273 1622.5C244.1 1622.9 214.2 1614.3 193.7 1597.9C173.2 1581.5 154.8 1549.7 150.1 1524C145.4 1498.3 151.2 1467.1 165.5 1443.9C179.9 1420.7 210 1395.5 236.1 1384.6C262.2 1373.8 307.4 1377.3 322.1 1378.6C336.9 1379.9 324.4 1389.9 324.5 1392.3" fill="none" stroke="#000" stroke-width="4.3" stroke-linecap="round" stroke-linejoin="round"/>
<path d="M1186.6 1478C1198.5 1456.8 1217.1 1437.8 1232.7 1428M1182.7 1479.8C1197 1465.3 1216.6 1440.8 1228 1428M1164.1 1516.4C1186.8 1495.5 1208.7 1477.7 1273.1 1406M1171.4 1522C1210 1482.6 1246.6 1434.6 1267.9 1412.8M1164.5 1544.5C1200.3 1523.3 1217.6 1484.6 1300.9 1409.5M1168.7 1546.1C1210 1500.7 1248.5 1458 1292.1 1407.8M1174.4 1572.1C1207 1523.1 1238.6 1484.4 1311.6 1404.5M1177.4 1568.3C1226.5 1508.4 1274.5 1450.3 1312.4 1403.7M1188.2 1585.8C1214.5 1532.9 1262.8 1495.2 1333.2 1411.3M1185.3 1581.8C1243.5 1516.4 1295.2 1450.5 1330.9 1411.4M1187.6 1597.8C1245.8 1521.8 1316 1454 1359.9 1415.8M1195.1 1595.4C1245.8 1531.8 1303 1468.7 1355 1414.8M1203 1614.8C1259.3 1555.6 1323 1488.3 1365.8 1417.3M1201.9 1615.4C1240.8 1568 1279 1521.6 1370.7 1423.6M1209 1618.9C1290.7 1551.2 1346.7 1472.8 1387.5 1435.6M1219.3 1625.8C1254.4 1578.3 1293.6 1537.9 1385.2 1430.1M1231.8 1641.3C1271.3 1584 1320.8 1538.7 1393.7 1439M1229.4 1630.1C1288.7 1568.3 1348 1495.1 1396.6 1441.5M1253.2 1638.3C1287.2 1605 1319.4 1555.9 1402.2 1460.4M1243.4 1644.6C1305.3 1580.7 1357.2 1520 1404.5 1457.1M1270.3 1641.7C1309.2 1604.7 1344.2 1546.8 1408.6 1472.2M1267.9 1649.8C1311.1 1594.4 1350 1544.6 1413.8 1473.2M1291.9 1646.5C1311.2 1611.3 1358.3 1570.2 1424.5 1487.5M1283.7 1653.8C1315.2 1615.6 1344.9 1583.7 1427.2 1485.2M1306.1 1653.1C1339.3 1620 1374.9 1584.1 1437.1 1511.2M1308.4 1653.6C1332.2 1615.3 1365.9 1584.1 1427.4 1513.9M1339.8 1653.8C1350.3 1616 1386.3 1591.3 1431.5 1538.9M1330 1651C1360.1 1614.3 1397.8 1572.6 1427.1 1538.2M1360 1631.8C1372.6 1626.3 1398.5 1609.4 1418.4 1565.9M1370.1 1639C1379.5 1620.7 1388 1602 1425.5 1573" fill="none" stroke="#4c6ef5" stroke-width="1.8" stroke-linecap="round" stroke-linejoin="round"/>
<path d="M1278.2 1408.3C1303.9 1402.5 1338.1 1408.9 1362.5 1421.8C1386.8 1434.6 1414.6 1461.4 1424.3 1485.3C1434 1509.1 1430.5 1540.1 1420.6 1564.9C1410.7 1589.6 1388.5 1619.4 1364.9 1634C1341.4 1648.5 1305.9 1655.5 1279.4 1651.9C1252.9 1648.3 1224.1 1633 1205.9 1612.3C1187.7 1591.6 1170.6 1555.2 1170.1 1527.7C1169.5 1500.2 1181.5 1467.3 1202.6 1447.4C1223.7 1427.6 1277.6 1414.7 1296.7 1408.7C1315.8 1402.7 1317.6 1410.1 1317.3 1411.2M1361 1419.3C1384.1 1430.1 1403.9 1461.7 1415.3 1485.5C1426.8 1509.2 1436.4 1536.3 1429.6 1561.8C1422.8 1587.3 1399.5 1624 1374.4 1638.6C1349.3 1653.2 1306.3 1652.5 1278.8 1649.2C1251.3 1645.9 1227.2 1637.5 1209.5 1618.7C1191.8 1599.9 1175.6 1564.1 1172.4 1536.2C1169.3 1508.3 1174.9 1472.9 1190.8 1451.4C1206.6 1430 1238.7 1413 1267.5 1407.3C1296.4 1401.7 1347.8 1414.8 1363.8 1417.4C1379.9 1419.9 1365 1421.3 1363.7 1422.5" fill="none" stroke="#000" stroke-width="4.3" stroke-linecap="round" stroke-linejoin="round"/>
<path d="M1467 1048.4C1487 1019.1 1505.9 1006.3 1519.3 983M1474 1042.8C1490.3 1024.9 1506.7 1002.8 1521.2 983.9M1455.1 1081.2C1480.8 1049.6 1497.7 1029.8 1551 969.9M1458.1 1076.9C1494.9 1043 1520.7 1012.3 1557.9 968.8M1468 1101.8C1491.6 1062.7 1541.7 1024.1 1584.2 964.4M1458.8 1102.4C1488.5 1073.2 1525.2 1039.5 1582.5 961.7M1468.3 1128.7C1522.9 1063.9 1573.4 1001.7 1606.5 968.6M1463.7 1128.9C1507.4 1081.3 1550.5 1032.5 1608.2 963.1M1467.5 1150.1C1506 1101.7 1535.8 1068.3 1633.2 965.2M1473.5 1148.8C1534.8 1074.9 1591.2 1007.8 1623.4 970M1489.7 1167.2C1533.5 1090.1 1600.8 1031.7 1638.8 980.4M1481.7 1160.1C1521.6 1115.7 1562.3 1064.2 1647.6 973.3M1490.8 1178.4C1550.4 1118.2 1589.4 1058.5 1660.2 980.8M1498 1176.6C1543.9 1113.7 1591.1 1056.6 1657.2 984M1509.9 1189.7C1566.3 1122.9 1617.5 1075.6 1681.8 985.3M1510.1 1188.8C1563.2 1117.8 1631.6 1046.7 1670.9 997.2M1520.7 1190.7C1556.6 1155.8 1590.2 1119.7 1690.6 1002.7M1519.4 1200.1C1568.4 1142.6 1610.8 1090 1684.1 1004.3M1531.2 1209.6C1581 1140.1 1639.4 1083.9 1707.3 1010.6M1534.4 1208.2C1594.7 1135.4 1654.2 1066.1 1700.6 1020.1M1560.5 1210.2C1587.9 1170.1 1634.3 1114.4 1700.6 1025.2M1556.5 1208C1589.5 1168.1 1621.4 1136.5 1706.3 1031.8M1568.9 1216.3C1597.4 1188.1 1629.6 1140.1 1711.1 1043.3M1574 1211.8C1626.1 1158.5 1679 1103.2 1720.1 1051.3M1596.6 1225.2C1632.7 1180.5 1666.1 1129.1 1719.8 1079.6M1597.2 1216.3C1633 1173.5 1661.3 1141.3 1720.6 1069.6M1621.3 1206C1651.9 1175.3 1704.1 1119.3 1731 1102.1M1616.5 1211.8C1649.8 1180.9 1680.5 1143.2 1723.6 1093M1651.2 1210.1C1677.1 1172.2 1696.6 1161.5 1723.7 1125.3M1652.5 1202.5C1679.7 1178 1698.9 1152.5 1719 1130.7" fill="none" stroke="#4c6ef5" stroke-width="1.8" stroke-linecap="round" stroke-linejoin="round"/>
<path d="M1642.9 976.2C1667.6 984.9 1701.1 1011.3 1713.1 1036.5C1725.2 1061.6 1722.8 1100.9 1715.2 1127C1707.7 1153.1 1690.8 1178.7 1667.9 1192.8C1645 1207 1606.5 1213.8 1577.9 1211.8C1549.3 1209.9 1515.4 1199.1 1496.4 1181C1477.4 1162.9 1465.4 1130.6 1463.9 1103.4C1462.5 1076.2 1471.7 1040.3 1487.7 1017.7C1503.7 995.1 1530.5 973 1559.9 967.9C1589.2 962.8 1643.8 981.8 1663.8 987.1C1683.7 992.5 1680.1 997.8 1679.4 1000M1538.8 979.9C1562 967.5 1601.3 959.1 1627.6 965.9C1654 972.6 1681.9 996.7 1696.8 1020.1C1711.8 1043.5 1719 1078.3 1717.2 1106.3C1715.4 1134.3 1705 1169.8 1685.9 1188.2C1666.8 1206.6 1630.5 1217.2 1602.5 1216.8C1574.4 1216.3 1540.8 1201.2 1517.8 1185.4C1494.7 1169.5 1470.5 1146.7 1464 1121.6C1457.6 1096.5 1465.6 1058.6 1479.2 1034.7C1492.9 1010.7 1535.8 987.4 1545.8 977.7C1555.8 968 1539.1 974.7 1539.4 976.6" fill="none" stroke="#000" stroke-width="4.3" stroke-linecap="round" stroke-linejoin="round"/>
<path d="M1694 1464.9C1715.1 1455.6 1721.6 1433.6 1744 1414.6M1695.1 1474.1C1715.7 1445.1 1735.6 1423.4 1741.1 1413.3M1688.2 1501.4C1725.6 1464.8 1754.3 1420.5 1772.6 1388.4M1685.6 1508.9C1716.8 1470.3 1748.4 1434.7 1784.3 1395.9M1675.3 1536.6C1721.8 1488.1 1752 1452.9 1811.9 1401.1M1685.1 1539.6C1711.4 1506.3 1732.8 1470.8 1804.8 1389M1693.8 1561.8C1722.4 1527.7 1753.4 1480.7 1829 1391.3M1687 1561.4C1718.8 1526 1747 1490 1832.2 1389.1M1692.4 1568.2C1719.9 1533 1759.2 1495.4 1841 1399.8M1693.6 1579.5C1740.9 1523.8 1783.1 1469 1853.3 1396.2M1710.9 1590.2C1752.2 1545.6 1790.1 1495.3 1871.1 1410M1698.8 1590C1737.7 1550.8 1772.6 1509.4 1870.6 1404.5M1707 1610.1C1743.8 1564.1 1792.4 1519.6 1888.2 1418.1M1709.8 1608.1C1779.8 1525.6 1846 1446.6 1881 1407.9M1722.3 1614.2C1781.4 1553.3 1831.6 1505 1899 1419.7M1721.5 1614.5C1763.3 1573.6 1799.4 1531.4 1895.2 1418.1M1742.6 1633.6C1796.5 1555.9 1847.5 1503.5 1903.7 1423M1741.2 1632.8C1776.4 1581.7 1809.1 1544.8 1912.2 1433.9M1761.8 1640.4C1807.1 1571.5 1877.2 1503.3 1915.2 1450.1M1752.1 1639.6C1808.3 1574.7 1869.1 1511.9 1920.8 1441.6M1770.3 1644.1C1817.3 1592.1 1868.1 1532.1 1926.9 1452.4M1772.3 1642.4C1802.5 1602.3 1842.8 1562.2 1931.6 1456.4M1797.9 1650.1C1839.2 1591.3 1904.7 1528.3 1947.3 1477.6M1793.6 1650C1824 1604.6 1868.2 1564.4 1943.6 1475.6M1816.7 1656.1C1862.7 1584.7 1910.1 1538.3 1944.3 1488.2M1809 1651.2C1861.9 1593.8 1915.1 1536.5 1944.5 1496.9M1834.6 1657.9C1873.2 1600.2 1907.5 1560.7 1953.8 1524.3M1835.1 1651C1866.4 1612.3 1898.7 1575.4 1949.6 1516.6M1861.2 1643.4C1874.9 1620.2 1907.3 1605.5 1942.7 1547.4M1866 1647.5C1882.2 1620.9 1907.6 1596 1949.3 1547.4" fill="none" stroke="#4c6ef5" stroke-width="1.8" stroke-linecap="round" stroke-linejoin="round"/>
<path d="M1783.5 1396.5C1809.5 1390 1854.9 1398.6 1880.3 1411.1C1905.8 1423.6 1926.5 1446.5 1936.1 1471.3C1945.8 1496 1946.4 1532.4 1938.2 1559.7C1930.1 1587 1911.1 1620.2 1887.4 1635.1C1863.6 1650 1823.8 1653.9 1795.6 1649.1C1767.4 1644.4 1737.3 1627.3 1718.3 1606.8C1699.3 1586.4 1683.5 1553.9 1681.6 1526.6C1679.7 1499.4 1686 1465.1 1706.9 1443.3C1727.8 1421.5 1787.5 1403.4 1806.8 1395.8C1826.1 1388.1 1822.8 1395.5 1822.6 1397.4M1760 1406.1C1781.7 1393.5 1812.6 1390.2 1838.8 1395.9C1865 1401.7 1899.3 1418.6 1917.3 1440.7C1935.4 1462.8 1947.8 1499.8 1946.9 1528.4C1945.9 1557.1 1930.8 1591.8 1911.6 1612.5C1892.5 1633.2 1859.4 1650.2 1832.2 1652.5C1804.9 1654.8 1771.5 1640.7 1748.2 1626.3C1724.8 1611.9 1700.6 1591.7 1692.1 1566C1683.6 1540.3 1686 1499.6 1697.3 1472.2C1708.6 1444.8 1749.5 1413.1 1759.8 1401.8C1770.1 1390.4 1758.5 1401.1 1759.1 1404.1" fill="none" stroke="#000" stroke-width="4.3" stroke-linecap="round" stroke-linejoin="round"/>
<path d="M1050.5 175.3C1043.3 185.3 1037 198.6 1022.2 219.9M1050.3 176C1043.4 188.1 1034.8 199.9 1022.4 220.3M1027.4 193.7C1025.9 204.5 1023.7 214.3 1022.8 219.2M1027.9 193.6C1026 203.2 1024.1 212.9 1022.1 220M1044 203.8C1039 207.9 1034.7 210.1 1021.5 220M1043.2 203C1039.2 207.4 1033.8 211.1 1022.2 220.6" fill="none" stroke="#000" stroke-width="3.9" stroke-linecap="round" stroke-linejoin="round"/>
<path d="M1095.2 142.1C1125.1 242.8 1165.5 326.7 1212.5 469.2M1088 149.4C1131.8 264.1 1176.4 376.8 1217.8 472.5M1126.3 376.1C1148.1 399.9 1180.1 431.6 1212 475.2M1127.7 373.6C1160.8 404.9 1182.7 436.8 1218.3 474.5M1207.1 340.9C1214.2 382.8 1215.4 401.6 1218.7 474.7M1213.5 342.2C1214.8 389.7 1214.2 440.1 1218 474.7" fill="none" stroke="#000" stroke-width="4.3" stroke-linecap="round" stroke-linejoin="round"/>
<path d="M956.6 344.1C934.6 407 900 469.7 867.2 522.6M957.3 348.3C928.2 402.4 902.9 455.8 864 523.9M884.1 421C877.6 450.8 871.4 474.2 861.4 516.2M879.2 423.6C879.1 466.3 871.5 499.5 867 525.5M940.9 452.6C914.6 477.5 892.8 501.7 868.2 527.3M938 454.4C911.3 486.4 885.6 508.9 865.4 524.2" fill="none" stroke="#000" stroke-width="4.3" stroke-linecap="round" stroke-linejoin="round"/>
<path d="M722 786.4C682.4 807.7 632.4 844.6 567.8 901.5M723.9 780.7C669.4 819.7 625.6 860 566.3 898.8M621.8 810.5C595.4 842.4 590.7 860.6 571.7 895.8M621.3 815.6C600.4 850.1 575.7 881.5 565 902.7M665.7 869.7C627.3 877.1 607.9 884.5 566 903.4M658.4 866.9C630.7 884.8 598.9 887.4 565.3 904" fill="none" stroke="#000" stroke-width="4.3" stroke-linecap="round" stroke-linejoin="round"/>
<path d="M878.7 741.3C927.9 794.5 952.9 835.5 1020.9 921.6M890.7 745.4C937.6 809.8 991.8 884.3 1022.9 920.1M932.2 871.6C965.1 891.1 996.9 910.1 1022.6 918.6M932 866.4C958.7 884.1 984.7 903 1023.3 923.5M986.2 816.8C1000.1 849.6 1019.2 898.8 1016.4 928.4M992.6 814.2C1001.2 855.8 1006.8 892.6 1022.8 925.6" fill="none" stroke="#000" stroke-width="4.3" stroke-linecap="round" stroke-linejoin="round"/>
<path d="M1295.4 632.5C1301.1 642.1 1307.8 654.7 1320.4 674.6M1295.2 633.1C1302.3 644.4 1307.8 655.6 1320.6 675M1301 658.7C1309.2 665.3 1316.7 671.1 1321 673.9M1301.5 658.6C1308.5 664.5 1315.6 670.4 1320.3 674.7M1316.7 650.6C1316.8 656.1 1317.7 659.9 1319.8 674.7M1315.9 649.8C1317.5 655.7 1317.7 661.2 1320.5 675.2" fill="none" stroke="#000" stroke-width="3.9" stroke-linecap="round" stroke-linejoin="round"/>
<path d="M1401.1 765.8C1443.9 833.2 1489.6 916.9 1510.9 967.1M1393.8 758.9C1429.4 819.1 1452.1 872.2 1511.1 971.4M1415.6 882.6C1456.6 914.1 1498.3 943.4 1515.4 961.5M1416.3 888.8C1448.9 916 1467.9 931.7 1510 968M1490.6 844.6C1490.5 885.6 1495.5 926.6 1512.1 963.7M1494.2 849.4C1493.3 891.3 1504.5 923 1507.1 968.9" fill="none" stroke="#000" stroke-width="4.3" stroke-linecap="round" stroke-linejoin="round"/>
<path d="M488.9 1034.1C473.4 1050.3 461 1064.1 449.9 1075.8M487.1 1033.7C479.1 1045.2 468.5 1053.2 449.8 1076.4M461 1049.9C456.9 1058.9 452.4 1068.7 449.1 1076.7M459.9 1049.4C456.4 1058.6 452.6 1067.9 449.4 1076.4M474.7 1063.5C468.6 1065.4 460.9 1071 451.1 1075.4M474.9 1062.1C469.1 1066 464.3 1068.8 449.8 1075.4" fill="none" stroke="#000" stroke-width="3.9" stroke-linecap="round" stroke-linejoin="round"/>
<path d="M548 1031.3C554.1 1040.9 561.2 1053.5 574.7 1073.4M547.8 1031.9C555.4 1043.3 561.2 1054.4 574.9 1073.8M554.5 1057.8C563 1064.3 570.8 1069.9 575.3 1072.7M555 1057.7C562.3 1063.5 569.7 1069.3 574.6 1073.5M570.2 1049.1C570.5 1054.7 571.5 1058.6 574 1073.5M569.4 1048.3C571.2 1054.3 571.5 1059.8 574.8 1074.1" fill="none" stroke="#000" stroke-width="3.9" stroke-linecap="round" stroke-linejoin="round"/>
<path d="M387.5 1212.8C369.7 1258.1 353.7 1308.5 326.5 1385.2M388.7 1212.5C373.1 1246.2 360 1281.7 329.7 1384M319.6 1292.1C331.6 1318.8 329.9 1331.5 322.4 1378.9M326.3 1293.4C328.8 1323.9 327 1344.7 324.2 1384.8M377.2 1320.5C358 1344.4 354.6 1356.3 333.4 1379.8M381.2 1316.3C369.2 1334.4 352.9 1354.5 323 1383.1" fill="none" stroke="#000" stroke-width="4.3" stroke-linecap="round" stroke-linejoin="round"/>
<path d="M1054.4 1040.6C1043.7 1051.4 1029 1067.6 1011.9 1093.6M1055.1 1038.5C1039.5 1055.9 1027.6 1073.9 1011.4 1092.6M1022.6 1059.1C1017.5 1069.7 1016.4 1077.9 1012.3 1092.4M1022.5 1060C1018.3 1073.1 1013.4 1085.6 1011.1 1093.6M1041.7 1074.8C1031.8 1079.3 1025.2 1083.9 1011.3 1093.7M1040.4 1074.3C1031.3 1081.8 1021.3 1086.6 1011.2 1093.8" fill="none" stroke="#000" stroke-width="3.9" stroke-linecap="round" stroke-linejoin="round"/>
<path d="M1126.5 1029.3C1174.3 1155.1 1209.8 1280.1 1255.2 1401.6M1127.2 1033.5C1160.9 1143.2 1199.4 1253.1 1252 1402.9M1177.4 1296.2C1196.5 1327.5 1216.1 1352 1249.4 1395.2M1172.4 1298.8C1207.3 1343 1234.7 1377.6 1255 1404.5M1258.8 1267.8C1253.5 1312.3 1252.7 1355.7 1256.2 1406.3M1255.8 1269.5C1255.2 1326.4 1256.2 1373.2 1253.4 1403.2" fill="none" stroke="#000" stroke-width="4.3" stroke-linecap="round" stroke-linejoin="round"/>
<path d="M937.4 1214.9C912.8 1248.5 878.2 1297.3 843.9 1377.1M939.3 1209.2C903.4 1262.2 878.2 1316.8 842.4 1374.4M861.4 1274.3C844.8 1309.5 850.2 1330.9 847.8 1371.4M860.9 1279.4C854.1 1318.2 843.4 1354.2 841.1 1378.3M921.4 1312.8C888.2 1328.3 874 1343.8 842.1 1379M914.1 1310C893 1338.7 868.1 1352.2 841.4 1379.6" fill="none" stroke="#000" stroke-width="4.3" stroke-linecap="round" stroke-linejoin="round"/>
<path d="M740.8 1497.8C731.7 1512.9 722.6 1527.5 698.9 1556.7M743.2 1499.4C730.6 1514.4 718.4 1530.5 700.5 1557.1M710.7 1523C706.7 1532.4 705.9 1539.6 701 1557.5M710.9 1523C707.4 1533.3 703.7 1542.4 700.5 1557.3M730 1537.7C721.1 1544.2 712.7 1548.7 700.9 1557M731 1537C722.6 1541.9 715.7 1546.7 700.1 1556.2" fill="none" stroke="#000" stroke-width="3.9" stroke-linecap="round" stroke-linejoin="round"/>
<path d="M1667.7 1199.6C1705.5 1255.3 1716.9 1335.6 1756.2 1407.3M1673.6 1201.1C1710.1 1285 1742.7 1364.2 1758.1 1406.6M1676.6 1326.1C1690.7 1343.1 1717.2 1350.1 1752.4 1411.4M1683.2 1319.6C1709.4 1348.4 1731.6 1383.7 1751.5 1408.2M1754.8 1300.3C1745.3 1338.5 1751.6 1371.5 1754 1406.4M1749.6 1292.5C1750.9 1340.1 1754.2 1380 1753.3 1406.3" fill="none" stroke="#000" stroke-width="4.3" stroke-linecap="round" stroke-linejoin="round"/>
<path d="M152.7 69.8C150.2 79.3 148.9 100.9 149.3 124.2M152.7 69.8C166.6 70.6 190.8 76.7 192.5 86.2C192.5 92.2 176.9 96.6 159.7 94C170 104.3 180.4 114.7 190.8 124.2M213.2 115.6C222.7 112.1 231.4 107.8 237.4 102.6C236.5 98.3 231.4 96.6 226.2 98.3C215.8 101.7 207.2 109.5 206.7 119.9C207.2 130.3 215.8 135.4 226.2 134.6C233.1 133.7 240 132 245.2 130.3M281.2 106.1C281.2 99.2 276 95.7 270 97.4C260.5 100 255.3 106.1 255.3 113C255.3 123.3 262.2 128.5 271.7 128.5C277.7 129.4 282.9 130.3 286.4 131.1M318.3 97.4C306.2 97.4 299.3 102.6 298.9 109.5C298.5 116.4 306.2 120.8 316.6 120.3C327 119.9 335.6 115.6 335.2 107.8C334.7 100.9 327 96.6 315.7 98.3M348.5 98.3C348.5 107.8 347.7 116.4 347.7 124.2C351.1 114.7 358.1 102.6 366.7 99.2C371.9 99.2 373.6 111.2 376.2 125.1M413.3 92.2C403.8 94 393.5 97.4 387.4 101.7C398.6 107.8 414.2 116.4 421.1 123.3C417.7 128.5 402.1 128.5 390 122.5M445.3 73.2C446.1 87.9 447.9 105.2 448.7 118.2C449.6 126.8 453.9 129.4 459.1 125.9C463.4 122.5 466.9 119 468.6 114.7M428.9 94C441.8 90.5 454.8 87.9 466.9 85.3M483.7 102.6C483.7 111.2 484.6 119.9 485.4 126.8C483.7 113 487.2 99.2 497.5 94.8C504.5 93.1 511.4 97.4 515.7 101.7M522.6 99.2C522.6 111.2 525.2 123.3 533.8 124.2C544.2 123.3 551.1 111.2 553.7 98.3M553.7 98.3C553.7 107.8 555.4 118.2 558 125.9M596 106.1C596 99.2 590.8 95.7 584.8 97.4C575.3 100 570.1 106.1 570.1 113C570.1 123.3 577 128.5 586.5 128.5C592.5 129.4 597.7 130.3 601.2 131.1M628 73.2C628.8 87.9 630.5 105.2 631.4 118.2C632.3 126.8 636.6 129.4 641.8 125.9C646.1 122.5 649.6 119 651.3 114.7M611.5 94C624.5 90.5 637.5 87.9 649.6 85.3M672.4 115.6C681.9 112.1 690.6 107.8 696.6 102.6C695.8 98.3 690.6 96.6 685.4 98.3C675 101.7 666.4 109.5 666 119.9C666.4 130.3 675 135.4 685.4 134.6C692.3 133.7 699.2 132 704.4 130.3M745.6 100.9C738.7 95.7 721.4 97.4 715.4 109.5C711.9 119.9 716.2 125.1 724.9 124.2C735.2 123.3 743.9 111.2 747.3 100.9M746.5 63.7C746.5 83.6 747.3 105.2 750.8 125.1" fill="none" stroke="#000" stroke-width="7.43" stroke-linecap="round" stroke-linejoin="round"/>
<path d="M135.2 179C132.7 188.5 131.4 210.1 131.8 233.4M135.2 179C149.1 179.8 173.3 185.9 175 195.4C175 201.4 159.4 205.8 142.2 203.2C152.5 213.5 162.9 223.9 173.3 233.4M195.4 224.8C204.9 221.3 213.6 217 219.6 211.8C218.7 207.5 213.6 205.8 208.4 207.5C198 210.9 189.4 218.7 188.9 229.1C189.4 239.5 198 244.6 208.4 243.8C215.3 242.9 222.2 241.2 227.4 239.5M259.7 210.1C251.9 208.4 238.1 213.5 237.2 223C237.2 230.8 243.2 233.4 248.4 230.8C255.3 227.4 258.8 218.7 260.5 210.9C264 220.4 272.6 230.8 282.1 235.1M322 215.3C322 208.4 316.8 204.9 310.8 206.6C301.3 209.2 296.1 215.3 296.1 222.2C296.1 232.5 303 237.7 312.5 237.7C318.5 238.6 323.7 239.5 327.2 240.3M353.7 182.4C354.5 197.1 356.2 214.4 357.1 227.4C358 236 362.3 238.6 367.5 235.1C371.8 231.7 375.3 228.2 377 223.9M337.2 203.2C350.2 199.7 363.2 197.1 375.3 194.5M448.5 182.4C449.4 197.1 451.1 214.4 452 227.4C452.8 236 457.2 238.6 462.3 235.1C466.7 231.7 470.1 228.2 471.8 223.9M432.1 203.2C445.1 199.7 458 197.1 470.1 194.5M486.7 211.8C486.7 220.4 487.5 229.1 488.4 236C486.7 222.2 490.1 208.4 500.5 204C507.4 202.3 514.3 206.6 518.6 210.9M530.4 224.8C539.9 221.3 548.6 217 554.6 211.8C553.7 207.5 548.6 205.8 543.4 207.5C533 210.9 524.4 218.7 523.9 229.1C524.4 239.5 533 244.6 543.4 243.8C550.3 242.9 557.2 241.2 562.4 239.5M578.2 224.8C587.7 221.3 596.4 217 602.4 211.8C601.6 207.5 596.4 205.8 591.2 207.5C580.8 210.9 572.2 218.7 571.7 229.1C572.2 239.5 580.8 244.6 591.2 243.8C598.1 242.9 605 241.2 610.2 239.5M662.5 211.8C662.5 220.4 662.9 227.4 663.3 234.3M657.7 189.3L663.8 195.4M679.4 207.5C679.4 217 678.6 225.6 678.6 233.4C682 223.9 688.9 211.8 697.6 208.4C702.8 208.4 704.5 220.4 707.1 234.3" fill="none" stroke="#000" stroke-width="7.43" stroke-linecap="round" stroke-linejoin="round"/>
<path d="M447.6 284.9C446.7 301.3 445 322.9 445 337.6C445.9 342.8 451.9 344.5 460.6 343.6C470.9 342.8 477 337.6 476.1 331.5C475.3 323.8 464 320.3 455.4 322C450.2 322.9 446.7 325.5 445.9 328.9M490.8 320.3C490.8 328.9 491.6 337.6 492.5 344.5C490.8 330.7 494.2 316.9 504.6 312.5C511.5 310.8 518.4 315.1 522.7 319.4M548 315.1C535.9 315.1 529 320.3 528.6 327.2C528.1 334.1 535.9 338.5 546.3 338C556.7 337.6 565.3 333.3 564.9 325.5C564.4 318.6 556.7 314.3 545.4 316M578.5 316.9C579.3 327.2 580.2 335.9 581.9 343.6C586.3 337.6 591.4 332.4 595.8 328.1C597.5 334.1 599.2 339.3 600.9 343.6C608.7 334.1 617.4 322 624.3 313.4M655.6 309.9C646.1 311.7 635.7 315.1 629.7 319.4C640.9 325.5 656.5 334.1 663.4 341C659.9 346.2 644.4 346.2 632.3 340.2M680 333.3C689.5 329.8 698.2 325.5 704.2 320.3C703.3 316 698.2 314.3 693 316C682.6 319.4 674 327.2 673.5 337.6C674 348 682.6 353.1 693 352.3C699.9 351.4 706.8 349.7 712 348M722.3 320.3C722.3 328.9 723.2 337.6 724 344.5C722.3 330.7 725.8 316.9 736.1 312.5C743.1 310.8 750 315.1 754.3 319.4" fill="none" stroke="#000" stroke-width="7.43" stroke-linecap="round" stroke-linejoin="round"/>
<path d="M68 576.2C68 571 64.1 568.4 59.5 569.7C52.4 571.6 48.5 576.2 48.5 581.4C48.5 589.2 53.7 593.1 60.8 593.1C65.4 593.8 69.3 594.4 71.9 595M82.3 537.2C81.6 552.8 81.6 572.3 82.9 590.5M96.9 573.6C96.9 580.1 97.2 585.3 97.5 590.5M93.3 556.7L97.9 561.2M114.4 583.3C121.6 580.8 128.1 577.5 132.6 573.6C132 570.3 128.1 569 124.2 570.3C116.4 572.9 109.9 578.8 109.5 586.6C109.9 594.4 116.4 598.3 124.2 597.6C129.4 597 134.6 595.7 138.5 594.4M147.3 570.3C147.3 577.5 146.7 584 146.7 589.8C149.3 582.7 154.5 573.6 161 571C164.9 571 166.2 580.1 168.1 590.5M187 551.5C187.6 562.5 188.9 575.5 189.6 585.3C190.2 591.8 193.5 593.8 197.4 591.1C200.6 588.5 203.2 585.9 204.5 582.7M174.6 567.1C184.4 564.5 194.1 562.5 203.2 560.6M251 573.6C251 585.3 251.6 601.5 254.2 613.2M251.6 577.5C254.9 572.9 260.1 570.3 265.3 571C273.1 572.3 278.3 576.2 277.6 581.4C277 587.2 269.2 591.1 262.7 590.5C258.8 590.5 254.9 588.5 252.9 585.9M287 537.2C286.4 552.8 286.4 572.3 287.7 590.5M318.8 572.3C313 571 302.6 574.9 301.9 582C301.9 587.9 306.5 589.8 310.4 587.9C315.6 585.3 318.2 578.8 319.5 572.9C322.1 580.1 328.6 587.9 335.7 591.1M366.6 576.2C366.6 571 362.7 568.4 358.2 569.7C351 571.6 347.1 576.2 347.1 581.4C347.1 589.2 352.3 593.1 359.5 593.1C364 593.8 367.9 594.4 370.5 595M385.4 583.3C392.6 580.8 399.1 577.5 403.6 573.6C403 570.3 399.1 569 395.2 570.3C387.4 572.9 380.9 578.8 380.6 586.6C380.9 594.4 387.4 598.3 395.2 597.6C400.4 597 405.6 595.7 409.5 594.4M417.7 556.7C417.7 568.4 418.4 580.1 419 591.1C421.6 582.7 426.8 573.6 433.3 571C438.5 572.3 441.8 582.7 444.4 591.1M463.8 569.7C454.7 569.7 449.5 573.6 449.2 578.8C448.9 584 454.7 587.2 462.5 586.9C470.3 586.6 476.8 583.3 476.5 577.5C476.2 572.3 470.3 569 461.9 570.3M486.6 537.2C485.9 552.8 485.9 572.3 487.2 590.5M524.9 572.3C519.7 568.4 506.7 569.7 502.2 578.8C499.6 586.6 502.8 590.5 509.3 589.8C517.1 589.2 523.6 580.1 526.2 572.3M525.6 544.3C525.6 559.3 526.2 575.5 528.8 590.5M544.4 583.3C551.5 580.8 558 577.5 562.6 573.6C561.9 570.3 558 569 554.1 570.3C546.3 572.9 539.8 578.8 539.5 586.6C539.8 594.4 546.3 598.3 554.1 597.6C559.3 597 564.5 595.7 568.4 594.4M576.7 573.6C576.7 580.1 577.3 586.6 578 591.8C576.7 581.4 579.3 571 587.1 567.8C592.3 566.4 597.5 569.7 600.7 572.9M626.1 565.8C618.9 567.1 611.1 569.7 606.6 572.9C615 577.5 626.7 584 631.9 589.2C629.3 593.1 617.6 593.1 608.5 588.5" fill="none" stroke="#000" stroke-width="5.59" stroke-linecap="round" stroke-linejoin="round"/>
<path d="M111.1 630.9C111.8 642 113.1 655 113.7 664.7C114.4 671.2 117.6 673.2 121.5 670.6C124.8 668 127.4 665.4 128.7 662.1M98.8 646.5C108.5 643.9 118.3 642 127.4 640M141.1 650.4C141.1 659.5 143 668.6 149.5 669.2C157.3 668.6 162.5 659.5 164.5 649.8M164.5 649.8C164.5 656.9 165.8 664.7 167.7 670.6M177.2 653C177.2 659.5 177.8 666 178.5 671.2C177.2 660.8 179.8 650.4 187.6 647.2C192.8 645.9 198 649.1 201.2 652.4M206.8 649.8C206.8 656.9 206.1 663.4 206.1 669.2C208.7 662.1 213.9 653 220.4 650.4C224.3 650.4 225.6 659.5 227.6 669.9M240.3 662.8C247.5 660.2 254 656.9 258.5 653C257.9 649.8 254 648.5 250.1 649.8C242.3 652.4 235.8 658.2 235.4 666C235.8 673.8 242.3 677.7 250.1 677.1C255.3 676.4 260.5 675.1 264.4 673.8M295.7 651.7C290.5 647.8 277.5 649.1 273 658.2C270.4 666 273.6 669.9 280.1 669.2C287.9 668.6 294.4 659.5 297 651.7M296.4 623.8C296.4 638.7 297 655 299.6 669.9M345.2 626.4C344.5 638.7 343.2 655 343.2 666C343.9 669.9 348.4 671.2 354.9 670.6C362.7 669.9 367.3 666 366.6 661.5C366 655.6 357.5 653 351 654.3C347.1 655 344.5 656.9 343.9 659.5M394.7 651.7C388.9 650.4 378.5 654.3 377.8 661.5C377.8 667.3 382.4 669.2 386.3 667.3C391.5 664.7 394.1 658.2 395.4 652.4C398 659.5 404.5 667.3 411.6 670.6M442.2 655.6C442.2 650.4 438.3 647.8 433.8 649.1C426.6 651.1 422.7 655.6 422.7 660.8C422.7 668.6 427.9 672.5 435.1 672.5C439.6 673.2 443.5 673.8 446.1 674.5M456.9 630.9C456.9 645.2 456.9 658.2 457.5 670.6M479.6 646.5C473.1 650.4 465.3 655 459.5 659.5C465.3 663.4 471.8 667.3 477.7 671.2M522.9 653C522.9 659.5 523.3 664.7 523.6 669.9M519.4 636.1L523.9 640.7M536.3 649.8C536.3 656.9 535.6 663.4 535.6 669.2C538.2 662.1 543.4 653 549.9 650.4C553.8 650.4 555.1 659.5 557.1 669.9M575.6 630.9C576.3 642 577.6 655 578.2 664.7C578.9 671.2 582.1 673.2 586 670.6C589.3 668 591.9 665.4 593.2 662.1M563.3 646.5C573 643.9 582.8 642 591.9 640M619.2 649.1C610.1 649.1 604.9 653 604.6 658.2C604.3 663.4 610.1 666.7 617.9 666.3C625.7 666 632.2 662.8 631.9 656.9C631.6 651.7 625.7 648.5 617.3 649.8" fill="none" stroke="#000" stroke-width="5.59" stroke-linecap="round" stroke-linejoin="round"/>
<path d="M307.3 739C307.3 733.8 303.4 731.2 298.8 732.5C291.7 734.5 287.8 739 287.8 744.2C287.8 752 293 755.9 300.1 755.9C304.7 756.6 308.6 757.2 311.2 757.9M335.3 732.5C326.2 732.5 321 736.4 320.7 741.6C320.3 746.8 326.2 750.1 334 749.7C341.8 749.4 348.3 746.1 348 740.3C347.6 735.1 341.8 731.9 333.3 733.1M358.1 735.1C358.1 741.6 358.1 748.1 358.1 754C360 746.8 362.6 737.7 365.9 734.5C368.5 739 369.8 746.8 371.1 752.6C373.7 745.5 376.9 737.1 380.8 734.5C384.7 736.4 387.3 745.5 389.3 754M399.7 736.4C399.7 748.1 400.4 764.4 403 776.1M400.4 740.3C403.6 735.8 408.8 733.1 414 733.8C421.8 735.1 427 739 426.4 744.2C425.7 750.1 417.9 754 411.4 753.3C407.5 753.3 403.6 751.4 401.7 748.8M449.5 732.5C440.4 732.5 435.2 736.4 434.9 741.6C434.6 746.8 440.4 750.1 448.2 749.7C456 749.4 462.5 746.1 462.2 740.3C461.9 735.1 456 731.9 447.6 733.1M472.3 733.1C472.3 740.3 471.7 746.8 471.7 752.6C474.3 745.5 479.5 736.4 486 733.8C489.9 733.8 491.2 742.9 493.1 753.3M505.5 746.1C512.7 743.6 519.2 740.3 523.7 736.4C523.1 733.1 519.2 731.9 515.3 733.1C507.5 735.8 501 741.6 500.6 749.4C501 757.2 507.5 761.1 515.3 760.5C520.5 759.8 525.7 758.5 529.6 757.2M537.9 733.1C537.9 740.3 537.2 746.8 537.2 752.6C539.8 745.5 545 736.4 551.5 733.8C555.4 733.8 556.7 742.9 558.7 753.3M576.9 714.3C577.6 725.4 578.9 738.4 579.5 748.1C580.2 754.6 583.4 756.6 587.3 754C590.6 751.4 593.2 748.8 594.5 745.5M564.6 729.9C574.3 727.3 584.1 725.4 593.2 723.4M626.1 728.6C618.9 729.9 611.1 732.5 606.6 735.8C615 740.3 626.7 746.8 631.9 752C629.3 755.9 617.6 755.9 608.5 751.4" fill="none" stroke="#000" stroke-width="5.59" stroke-linecap="round" stroke-linejoin="round"/>
<path d="M1300.4 282.6C1293.8 283.8 1286.6 286.2 1282.4 289.2C1290.2 293.4 1301 299.4 1305.8 304.2C1303.4 307.8 1292.6 307.8 1284.2 303.6M1317.4 298.8C1324 296.4 1330 293.4 1334.2 289.8C1333.6 286.8 1330 285.6 1326.4 286.8C1319.2 289.2 1313.2 294.6 1312.9 301.8C1313.2 309 1319.2 312.6 1326.4 312C1331.2 311.4 1336 310.2 1339.6 309M1346.8 289.8C1346.8 295.8 1347.4 301.8 1348 306.6C1346.8 297 1349.2 287.4 1356.4 284.4C1361.2 283.2 1366 286.2 1369 289.2M1372.3 283.8C1374.7 292.2 1377.7 299.4 1380.7 304.2C1385.5 298.2 1391.5 289.8 1395.7 283.8M1407.9 298.8C1414.5 296.4 1420.5 293.4 1424.7 289.8C1424.1 286.8 1420.5 285.6 1416.9 286.8C1409.7 289.2 1403.7 294.6 1403.4 301.8C1403.7 309 1409.7 312.6 1416.9 312C1421.7 311.4 1426.5 310.2 1430.1 309M1437.3 289.8C1437.3 295.8 1437.9 301.8 1438.5 306.6C1437.3 297 1439.7 287.4 1446.9 284.4C1451.7 283.2 1456.5 286.2 1459.5 289.2M1512.2 292.2C1512.2 287.4 1508.6 285 1504.4 286.2C1497.8 288 1494.2 292.2 1494.2 297C1494.2 304.2 1499 307.8 1505.6 307.8C1509.8 308.4 1513.4 309 1515.8 309.6M1538.2 286.2C1529.8 286.2 1525 289.8 1524.7 294.6C1524.4 299.4 1529.8 302.4 1537 302.1C1544.2 301.8 1550.2 298.8 1549.9 293.4C1549.6 288.6 1544.2 285.6 1536.4 286.8M1559.4 288.6C1559.4 294.6 1559.4 300.6 1559.4 306C1561.2 299.4 1563.6 291 1566.6 288C1569 292.2 1570.2 299.4 1571.4 304.8C1573.8 298.2 1576.8 290.4 1580.4 288C1584 289.8 1586.4 298.2 1588.2 306M1598.1 289.8C1598.1 300.6 1598.7 315.6 1601.1 326.4M1598.7 293.4C1601.7 289.2 1606.5 286.8 1611.3 287.4C1618.5 288.6 1623.3 292.2 1622.7 297C1622.1 302.4 1614.9 306 1608.9 305.4C1605.3 305.4 1601.7 303.6 1599.9 301.2M1644.2 286.2C1635.8 286.2 1631 289.8 1630.7 294.6C1630.4 299.4 1635.8 302.4 1643 302.1C1650.2 301.8 1656.2 298.8 1655.9 293.4C1655.6 288.6 1650.2 285.6 1642.4 286.8M1665.4 286.8C1665.4 293.4 1664.8 299.4 1664.8 304.8C1667.2 298.2 1672 289.8 1678 287.4C1681.6 287.4 1682.8 295.8 1684.6 305.4M1696.2 298.8C1702.8 296.4 1708.8 293.4 1713 289.8C1712.4 286.8 1708.8 285.6 1705.2 286.8C1698 289.2 1692 294.6 1691.7 301.8C1692 309 1698 312.6 1705.2 312C1710 311.4 1714.8 310.2 1718.4 309M1726.3 286.8C1726.3 293.4 1725.7 299.4 1725.7 304.8C1728.1 298.2 1732.9 289.8 1738.9 287.4C1742.5 287.4 1743.7 295.8 1745.5 305.4M1762.5 269.4C1763.1 279.6 1764.3 291.6 1764.9 300.6C1765.5 306.6 1768.5 308.4 1772.1 306C1775.1 303.6 1777.5 301.2 1778.7 298.2M1751.1 283.8C1760.1 281.4 1769.1 279.6 1777.5 277.8M1808 282.6C1801.4 283.8 1794.2 286.2 1790 289.2C1797.8 293.4 1808.6 299.4 1813.4 304.2C1811 307.8 1800.2 307.8 1791.8 303.6" fill="none" stroke="#000" stroke-width="5.16" stroke-linecap="round" stroke-linejoin="round"/>
<path d="M1302.4 360.6C1297.6 357 1285.6 358.2 1281.4 366.6C1279 373.8 1282 377.4 1288 376.8C1295.2 376.2 1301.2 367.8 1303.6 360.6M1303 334.8C1303 348.6 1303.6 363.6 1306 377.4M1329.1 358.2C1320.7 358.2 1315.9 361.8 1315.6 366.6C1315.3 371.4 1320.7 374.4 1327.9 374.1C1335.1 373.8 1341.1 370.8 1340.8 365.4C1340.5 360.6 1335.1 357.6 1327.3 358.8M1350.3 358.8C1350.3 365.4 1349.7 371.4 1349.7 376.8C1352.1 370.2 1356.9 361.8 1362.9 359.4C1366.5 359.4 1367.7 367.8 1369.5 377.4M1383.6 343.2L1381.8 354M1401.8 341.4C1402.4 351.6 1403.6 363.6 1404.2 372.6C1404.8 378.6 1407.8 380.4 1411.4 378C1414.4 375.6 1416.8 373.2 1418 370.2M1390.4 355.8C1399.4 353.4 1408.4 351.6 1416.8 349.8M1463.3 370.8C1469.9 368.4 1475.9 365.4 1480.1 361.8C1479.5 358.8 1475.9 357.6 1472.3 358.8C1465.1 361.2 1459.1 366.6 1458.8 373.8C1459.1 381 1465.1 384.6 1472.3 384C1477.1 383.4 1481.9 382.2 1485.5 381M1495.7 358.8C1502.3 365.4 1510.7 373.2 1517.3 378.6M1514.3 357C1507.1 364.2 1497.5 373.8 1490.9 381M1526.3 361.8C1526.3 367.8 1526.6 372.6 1526.9 377.4M1523 346.2L1527.2 350.4M1556.6 354.6C1550 355.8 1542.8 358.2 1538.6 361.2C1546.4 365.4 1557.2 371.4 1562 376.2C1559.6 379.8 1548.8 379.8 1540.4 375.6M1579 341.4C1579.6 351.6 1580.8 363.6 1581.4 372.6C1582 378.6 1585 380.4 1588.6 378C1591.6 375.6 1594 373.2 1595.2 370.2M1567.6 355.8C1576.6 353.4 1585.6 351.6 1594 349.8M1612 356.4L1614.4 360.6M1615.6 374.4C1615 381 1613.2 387 1610.8 391.8M1664.1 364.8C1665.3 375.6 1667.7 387.6 1667.7 396.6C1667.7 400.2 1665.3 401.4 1662.9 399.6L1647.9 391.2M1655.1 346.8L1661.1 352.2M1677.9 359.4C1677.9 367.8 1679.7 376.2 1685.7 376.8C1692.9 376.2 1697.7 367.8 1699.5 358.8M1699.5 358.8C1699.5 365.4 1700.7 372.6 1702.5 378M1729.7 354.6C1723.1 355.8 1715.9 358.2 1711.7 361.2C1719.5 365.4 1730.3 371.4 1735.1 376.2C1732.7 379.8 1721.9 379.8 1713.5 375.6M1752.2 341.4C1752.8 351.6 1754 363.6 1754.6 372.6C1755.2 378.6 1758.2 380.4 1761.8 378C1764.8 375.6 1767.2 373.2 1768.4 370.2M1740.8 355.8C1749.8 353.4 1758.8 351.6 1767.2 349.8M1819 341.4C1819.6 351.6 1820.8 363.6 1821.4 372.6C1822 378.6 1825 380.4 1828.6 378C1831.6 375.6 1834 373.2 1835.2 370.2M1807.6 355.8C1816.6 353.4 1825.6 351.6 1834 349.8M1846 346.2C1846 357 1846.6 367.8 1847.2 378C1849.6 370.2 1854.4 361.8 1860.4 359.4C1865.2 360.6 1868.2 370.2 1870.6 378M1879.2 370.8C1885.8 368.4 1891.8 365.4 1896 361.8C1895.4 358.8 1891.8 357.6 1888.2 358.8C1881 361.2 1875 366.6 1874.7 373.8C1875 381 1881 384.6 1888.2 384C1893 383.4 1897.8 382.2 1901.4 381" fill="none" stroke="#000" stroke-width="5.16" stroke-linecap="round" stroke-linejoin="round"/>
<path d="M1290 418.8C1290.6 429 1291.8 441 1292.4 450C1293 456 1296 457.8 1299.6 455.4C1302.6 453 1305 450.6 1306.2 447.6M1278.6 433.2C1287.6 430.8 1296.6 429 1305 427.2M1332.5 438C1327.1 436.8 1317.5 440.4 1316.9 447C1316.9 452.4 1321.1 454.2 1324.7 452.4C1329.5 450 1331.9 444 1333.1 438.6C1335.5 445.2 1341.5 452.4 1348.1 455.4M1378.1 441.6C1372.7 438.6 1360.7 440.4 1358.9 448.2C1358.3 454.2 1365.5 455.4 1371.5 451.2C1375.1 448.2 1377.5 444 1378.1 440.4C1378.1 453 1375.1 468 1370.3 479.4L1357.1 471M1405.9 432C1399.3 433.2 1392.1 435.6 1387.9 438.6C1395.7 442.8 1406.5 448.8 1411.3 453.6C1408.9 457.2 1398.1 457.2 1389.7 453M1458.6 418.8C1459.2 429 1460.4 441 1461 450C1461.6 456 1464.6 457.8 1468.2 455.4C1471.2 453 1473.6 450.6 1474.8 447.6M1447.2 433.2C1456.2 430.8 1465.2 429 1473.6 427.2M1485.6 423.6C1485.6 434.4 1486.2 445.2 1486.8 455.4C1489.2 447.6 1494 439.2 1500 436.8C1504.8 438 1507.8 447.6 1510.2 455.4M1518.9 448.2C1525.5 445.8 1531.5 442.8 1535.7 439.2C1535.1 436.2 1531.5 435 1527.9 436.2C1520.7 438.6 1514.7 444 1514.4 451.2C1514.7 458.4 1520.7 462 1527.9 461.4C1532.7 460.8 1537.5 459.6 1541.1 458.4M1547.7 435C1550.7 442.8 1555.5 450 1561.5 453M1570.5 434.4C1567.5 447.6 1560.3 465.6 1552.5 480M1607 439.2C1607 445.2 1607.6 451.2 1608.2 456C1607 446.4 1609.4 436.8 1616.6 433.8C1621.4 432.6 1626.2 435.6 1629.2 438.6M1637.9 448.2C1644.5 445.8 1650.5 442.8 1654.7 439.2C1654.1 436.2 1650.5 435 1646.9 436.2C1639.7 438.6 1633.7 444 1633.4 451.2C1633.7 458.4 1639.7 462 1646.9 461.4C1651.7 460.8 1656.5 459.6 1660.1 458.4M1668 436.2C1668 442.8 1667.4 448.8 1667.4 454.2C1669.8 447.6 1674.6 439.2 1680.6 436.8C1684.2 436.8 1685.4 445.2 1687.2 454.8M1716.2 438C1711.4 434.4 1699.4 435.6 1695.2 444C1692.8 451.2 1695.8 454.8 1701.8 454.2C1709 453.6 1715 445.2 1717.4 438M1716.8 412.2C1716.8 426 1717.4 441 1719.8 454.8M1733.9 448.2C1740.5 445.8 1746.5 442.8 1750.7 439.2C1750.1 436.2 1746.5 435 1742.9 436.2C1735.7 438.6 1729.7 444 1729.4 451.2C1729.7 458.4 1735.7 462 1742.9 461.4C1747.7 460.8 1752.5 459.6 1756.1 458.4M1763.3 439.2C1763.3 445.2 1763.9 451.2 1764.5 456C1763.3 446.4 1765.7 436.8 1772.9 433.8C1777.7 432.6 1782.5 435.6 1785.5 438.6M1794.2 448.2C1800.8 445.8 1806.8 442.8 1811 439.2C1810.4 436.2 1806.8 435 1803.2 436.2C1796 438.6 1790 444 1789.7 451.2C1790 458.4 1796 462 1803.2 461.4C1808 460.8 1812.8 459.6 1816.4 458.4M1845.3 438C1840.5 434.4 1828.5 435.6 1824.3 444C1821.9 451.2 1824.9 454.8 1830.9 454.2C1838.1 453.6 1844.1 445.2 1846.5 438M1845.9 412.2C1845.9 426 1846.5 441 1848.9 454.8M1898.6 418.8C1899.2 429 1900.4 441 1901 450C1901.6 456 1904.6 457.8 1908.2 455.4C1911.2 453 1913.6 450.6 1914.8 447.6M1887.2 433.2C1896.2 430.8 1905.2 429 1913.6 427.2M1938.7 435.6C1930.3 435.6 1925.5 439.2 1925.2 444C1924.9 448.8 1930.3 451.8 1937.5 451.5C1944.7 451.2 1950.7 448.2 1950.4 442.8C1950.1 438 1944.7 435 1936.9 436.2" fill="none" stroke="#000" stroke-width="5.16" stroke-linecap="round" stroke-linejoin="round"/>
<path d="M1062.8 103.3C1057.2 99.2 1043.4 100.5 1038.6 110.2C1035.9 118.5 1039.3 122.6 1046.2 121.9C1054.5 121.2 1061.4 111.6 1064.1 103.3M1063.5 73.6C1063.5 89.5 1064.1 106.8 1066.9 122.6M1080.5 104.7C1080.5 111.6 1080.9 117.1 1081.2 122.6M1076.8 86.7L1081.6 91.6M1095.2 97.8C1098 107.4 1101.4 115.7 1104.9 121.2C1110.4 114.3 1117.3 104.7 1122.1 97.8" fill="none" stroke="#000" stroke-width="5.93" stroke-linecap="round" stroke-linejoin="round"/>
<path d="M975.1 278.3C969.5 274.2 955.7 275.5 950.9 285.2C948.2 293.5 951.6 297.6 958.5 296.9C966.8 296.2 973.7 286.6 976.4 278.3M975.8 248.6C975.8 264.5 976.4 281.8 979.2 297.6M992.4 279.7C992.4 286.6 992.7 292.1 993.1 297.6M988.6 261.7L993.4 266.6M1006.6 272.8C1009.4 282.4 1012.8 290.7 1016.3 296.2C1021.8 289.3 1028.7 279.7 1033.5 272.8" fill="none" stroke="#000" stroke-width="5.93" stroke-linecap="round" stroke-linejoin="round"/>
<path d="M1234.3 575.5C1228.7 571.4 1214.9 572.7 1210.1 582.4C1207.4 590.7 1210.8 594.8 1217.7 594.1C1226 593.4 1232.9 583.8 1235.6 575.5M1235 545.8C1235 561.7 1235.6 579 1238.4 594.8M1252.5 576.9C1252.5 583.8 1252.9 589.3 1253.2 594.8M1248.8 558.9L1253.6 563.8M1267.7 570C1270.5 579.6 1273.9 587.9 1277.4 593.4C1282.9 586.5 1289.8 576.9 1294.6 570" fill="none" stroke="#000" stroke-width="5.93" stroke-linecap="round" stroke-linejoin="round"/>
<path d="M1351.6 718.7C1346 714.6 1332.2 715.9 1327.4 725.6C1324.7 733.9 1328.1 738 1335 737.3C1343.3 736.6 1350.2 727 1352.9 718.7M1352.3 689C1352.3 704.9 1352.9 722.1 1355.7 738M1369.4 720.1C1369.4 727 1369.7 732.5 1370.1 738M1365.6 702.1L1370.4 707M1384.1 713.2C1386.9 722.8 1390.3 731.1 1393.8 736.6C1399.3 729.7 1406.2 720.1 1411 713.2" fill="none" stroke="#000" stroke-width="5.93" stroke-linecap="round" stroke-linejoin="round"/>
<path d="M497.5 961.7C491.9 957.6 478.1 958.9 473.3 968.6C470.6 976.9 474 981 480.9 980.3C489.2 979.6 496.1 970 498.8 961.7M498.2 932C498.2 947.9 498.8 965.1 501.6 981M515.8 963.1C515.8 970 516.1 975.5 516.5 981M512 945.1L516.8 950M531 956.2C533.8 965.8 537.2 974.1 540.7 979.6C546.2 972.7 553.1 963.1 557.9 956.2" fill="none" stroke="#000" stroke-width="5.93" stroke-linecap="round" stroke-linejoin="round"/>
<path d="M1063 971.4C1057.4 967.3 1043.6 968.6 1038.8 978.3C1036.1 986.6 1039.5 990.7 1046.4 990C1054.7 989.3 1061.6 979.7 1064.3 971.4M1063.7 941.7C1063.7 957.6 1064.3 974.9 1067.1 990.7M1081.2 972.8C1081.2 979.7 1081.5 985.2 1081.9 990.7M1077.4 954.8L1082.2 959.7M1096.3 965.9C1099.1 975.5 1102.5 983.8 1106 989.3C1111.5 982.4 1118.4 972.8 1123.2 965.9" fill="none" stroke="#000" stroke-width="5.93" stroke-linecap="round" stroke-linejoin="round"/>
<path d="M397.7 1141.9C392.1 1137.8 378.3 1139.1 373.5 1148.8C370.8 1157.1 374.2 1161.2 381.1 1160.5C389.4 1159.8 396.3 1150.2 399 1141.9M398.4 1112.2C398.4 1128.1 399 1145.3 401.8 1161.2M415.7 1143.3C415.7 1150.2 416 1155.7 416.4 1161.2M411.9 1125.3L416.7 1130.2M430.6 1136.4C433.4 1146 436.8 1154.3 440.3 1159.8C445.8 1152.9 452.7 1143.3 457.5 1136.4" fill="none" stroke="#000" stroke-width="5.93" stroke-linecap="round" stroke-linejoin="round"/>
<path d="M598.6 1138.7C592.4 1137.3 581.4 1141.5 580.7 1149.1C580.7 1155.3 585.5 1157.3 589.7 1155.3C595.2 1152.5 598 1145.6 599.3 1139.4C602.1 1147 609 1155.3 616.6 1158.7" fill="none" stroke="#000" stroke-width="5.93" stroke-linecap="round" stroke-linejoin="round"/>
<path d="M949.6 1141.2C949.6 1153.6 950.3 1170.8 953 1183.3M950.3 1145.3C953.7 1140.5 959.2 1137.7 964.8 1138.4C973 1139.8 978.6 1143.9 977.9 1149.5C977.2 1155.7 968.9 1159.8 962 1159.1C957.9 1159.1 953.7 1157 951.7 1154.3" fill="none" stroke="#000" stroke-width="5.93" stroke-linecap="round" stroke-linejoin="round"/>
<path d="M767.3 1437.4C759.7 1438.8 751.4 1441.5 746.6 1445C755.5 1449.8 768 1456.7 773.5 1462.2C770.7 1466.4 758.3 1466.4 748.6 1461.5M781.6 1445.7C781.6 1458.1 782.3 1475.3 785 1487.8M782.3 1449.8C785.7 1445 791.2 1442.2 796.8 1442.9C805 1444.3 810.6 1448.4 809.9 1454C809.2 1460.2 800.9 1464.3 794 1463.6C789.9 1463.6 785.7 1461.5 783.7 1458.8M835.6 1444.3C829.4 1442.9 818.3 1447.1 817.6 1454.7C817.6 1460.9 822.5 1462.9 826.6 1460.9C832.1 1458.1 834.9 1451.2 836.3 1445C839 1452.6 845.9 1460.9 853.5 1464.3M864.1 1442.2C864.1 1449.8 863.4 1456.7 863.4 1462.9C866.1 1455.3 871.6 1445.7 878.5 1442.9C882.7 1442.9 884.1 1452.6 886.1 1463.6" fill="none" stroke="#000" stroke-width="5.93" stroke-linecap="round" stroke-linejoin="round"/>
<path d="M640.2 1622.6C640.2 1629.5 640.5 1635 640.9 1640.5M636.4 1604.6L641.2 1609.5M654.9 1621.2C654.9 1628.1 654.9 1635 654.9 1641.2C657 1633.6 659.8 1624 663.2 1620.5C666 1625.3 667.3 1633.6 668.7 1639.8C671.5 1632.2 674.9 1623.3 679.1 1620.5C683.2 1622.6 686 1632.2 688 1641.2M721.4 1625.3C715.2 1621.9 701.4 1624 699.4 1632.9C698.7 1639.8 706.9 1641.2 713.8 1636.4C718 1632.9 720.7 1628.1 721.4 1624C721.4 1638.5 718 1655.7 712.5 1668.8L697.3 1659.2" fill="none" stroke="#000" stroke-width="5.93" stroke-linecap="round" stroke-linejoin="round"/>
</g>
</svg>
<div class="t" style="position:absolute;top:48.0px;font-size:69.1px;line-height:108.00px;text-align:right;white-space:nowrap;right:1240.0px;">Reconstructed<br>React tree in<br>browser</div>
<div class="t" style="position:absolute;top:538.0px;font-size:52.0px;line-height:81.25px;text-align:right;white-space:nowrap;right:1362.0px;">client placeholders<br>turned back into<br>components</div>
<div class="t" style="position:absolute;top:258.0px;font-size:48.0px;line-height:75.00px;text-align:left;white-space:nowrap;left:1276.0px;">server components<br>don&#39;t exist; just the<br>tags they rendered to</div>
<div class="t" style="position:absolute;left:1034.7px;top:72.2px;width:90.4px;font-size:55.2px;line-height:69.0px;text-align:center;">div</div>
<div class="t" style="position:absolute;left:947.0px;top:247.2px;width:89.5px;font-size:55.2px;line-height:69.0px;text-align:center;">div</div>
<div class="t" style="position:absolute;left:1206.2px;top:544.5px;width:91.4px;font-size:55.2px;line-height:69.0px;text-align:center;">div</div>
<div class="t" style="position:absolute;left:1323.5px;top:687.6px;width:90.5px;font-size:55.2px;line-height:69.0px;text-align:center;">div</div>
<div class="t" style="position:absolute;left:469.4px;top:930.6px;width:91.5px;font-size:55.2px;line-height:69.0px;text-align:center;">div</div>
<div class="t" style="position:absolute;left:1034.9px;top:940.4px;width:91.3px;font-size:55.2px;line-height:69.0px;text-align:center;">div</div>
<div class="t" style="position:absolute;left:369.6px;top:1110.8px;width:90.9px;font-size:55.2px;line-height:69.0px;text-align:center;">div</div>
<div class="t" style="position:absolute;left:577.5px;top:1107.7px;width:42.3px;font-size:55.2px;line-height:69.0px;text-align:center;">a</div>
<div class="t" style="position:absolute;left:948.5px;top:1108.8px;width:30.5px;font-size:55.2px;line-height:69.0px;text-align:center;">p</div>
<div class="t" style="position:absolute;left:743.6px;top:1413.2px;width:145.5px;font-size:55.2px;line-height:69.0px;text-align:center;">span</div>
<div class="t" style="position:absolute;left:633.4px;top:1590.2px;width:91.0px;font-size:55.2px;line-height:69.0px;text-align:center;">img</div>
</body></html>
